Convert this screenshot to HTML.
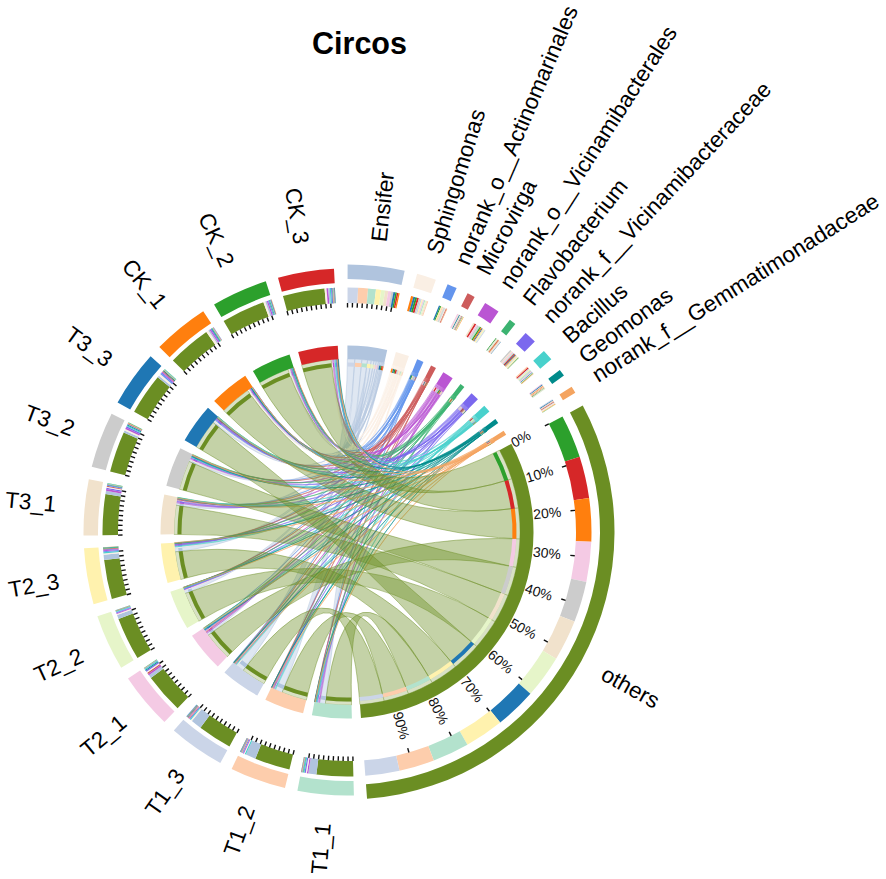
<!DOCTYPE html><html><head><meta charset="utf-8"><style>html,body{margin:0;padding:0;background:#fff;}svg{display:block}svg text{font-family:"Liberation Sans",sans-serif}</style></head><body><svg width="886" height="879" viewBox="0 0 886 879"><rect width="886" height="879" fill="#fff"/><path d="M325.32,703.64A173.0,173.0 0 0 1 319.56,702.81Q347.00,532.00 361.91,359.64A173.0,173.0 0 0 1 367.53,360.22Q347.00,532.00 325.32,703.64Z" fill="#b0c4de" fill-opacity="0.4" stroke="#b0c4de" stroke-opacity="0.8" stroke-width="0.6"/><path d="M282.14,692.38A173.0,173.0 0 0 1 275.44,689.51Q347.00,532.00 354.85,359.18A173.0,173.0 0 0 1 361.91,359.64Q347.00,532.00 282.14,692.38Z" fill="#b0c4de" fill-opacity="0.4" stroke="#b0c4de" stroke-opacity="0.8" stroke-width="0.6"/><path d="M243.27,670.45A173.0,173.0 0 0 1 237.23,665.71Q347.00,532.00 347.39,359.00A173.0,173.0 0 0 1 354.85,359.18Q347.00,532.00 243.27,670.45Z" fill="#b0c4de" fill-opacity="0.4" stroke="#b0c4de" stroke-opacity="0.8" stroke-width="0.6"/><path d="M208.18,635.24A173.0,173.0 0 0 1 206.83,633.39Q347.00,532.00 376.25,361.49A173.0,173.0 0 0 1 378.44,361.88Q347.00,532.00 208.18,635.24Z" fill="#b0c4de" fill-opacity="0.4" stroke="#b0c4de" stroke-opacity="0.8" stroke-width="0.6"/><path d="M185.30,593.49A173.0,173.0 0 0 1 184.29,590.78Q347.00,532.00 371.21,360.70A173.0,173.0 0 0 1 373.98,361.12Q347.00,532.00 185.30,593.49Z" fill="#b0c4de" fill-opacity="0.4" stroke="#b0c4de" stroke-opacity="0.8" stroke-width="0.6"/><path d="M175.15,551.88A173.0,173.0 0 0 1 174.75,548.09Q347.00,532.00 367.53,360.22A173.0,173.0 0 0 1 371.21,360.70Q347.00,532.00 175.15,551.88Z" fill="#b0c4de" fill-opacity="0.4" stroke="#b0c4de" stroke-opacity="0.8" stroke-width="0.6"/><path d="M176.09,505.18A173.0,173.0 0 0 1 176.47,502.84Q347.00,532.00 373.98,361.12A173.0,173.0 0 0 1 376.25,361.49Q347.00,532.00 176.09,505.18Z" fill="#b0c4de" fill-opacity="0.4" stroke="#b0c4de" stroke-opacity="0.8" stroke-width="0.6"/><path d="M189.01,461.52A173.0,173.0 0 0 1 189.64,460.12Q347.00,532.00 378.44,361.88A173.0,173.0 0 0 1 379.91,362.16Q347.00,532.00 189.01,461.52Z" fill="#b0c4de" fill-opacity="0.4" stroke="#b0c4de" stroke-opacity="0.8" stroke-width="0.6"/><path d="M213.05,422.52A173.0,173.0 0 0 1 213.97,421.40Q347.00,532.00 379.91,362.16A173.0,173.0 0 0 1 381.30,362.43Q347.00,532.00 213.05,422.52Z" fill="#b0c4de" fill-opacity="0.4" stroke="#b0c4de" stroke-opacity="0.8" stroke-width="0.6"/><path d="M248.89,389.51A173.0,173.0 0 0 1 249.68,388.97Q347.00,532.00 383.39,362.87A173.0,173.0 0 0 1 384.30,363.07Q347.00,532.00 248.89,389.51Z" fill="#b0c4de" fill-opacity="0.4" stroke="#b0c4de" stroke-opacity="0.8" stroke-width="0.6"/><path d="M289.14,368.96A173.0,173.0 0 0 1 290.20,368.59Q347.00,532.00 381.30,362.43A173.0,173.0 0 0 1 382.36,362.65Q347.00,532.00 289.14,368.96Z" fill="#b0c4de" fill-opacity="0.4" stroke="#b0c4de" stroke-opacity="0.8" stroke-width="0.6"/><path d="M333.70,359.51A173.0,173.0 0 0 1 334.78,359.43Q347.00,532.00 382.36,362.65A173.0,173.0 0 0 1 383.39,362.87Q347.00,532.00 333.70,359.51Z" fill="#b0c4de" fill-opacity="0.4" stroke="#b0c4de" stroke-opacity="0.8" stroke-width="0.6"/><path d="M318.61,702.66A173.0,173.0 0 0 1 317.76,702.51Q347.00,532.00 401.62,367.85A173.0,173.0 0 0 1 402.42,368.12Q347.00,532.00 318.61,702.66Z" fill="#faefe4" fill-opacity="0.4" stroke="#faefe4" stroke-opacity="0.8" stroke-width="0.6"/><path d="M274.59,689.12A173.0,173.0 0 0 1 273.98,688.84Q347.00,532.00 403.85,368.61A173.0,173.0 0 0 1 404.46,368.82Q347.00,532.00 274.59,689.12Z" fill="#faefe4" fill-opacity="0.4" stroke="#faefe4" stroke-opacity="0.8" stroke-width="0.6"/><path d="M237.23,665.71A173.0,173.0 0 0 1 236.43,665.05Q347.00,532.00 398.98,366.99A173.0,173.0 0 0 1 399.94,367.30Q347.00,532.00 237.23,665.71Z" fill="#faefe4" fill-opacity="0.4" stroke="#faefe4" stroke-opacity="0.8" stroke-width="0.6"/><path d="M205.60,631.67A173.0,173.0 0 0 1 205.08,630.94Q347.00,532.00 400.79,367.58A173.0,173.0 0 0 1 401.62,367.85Q347.00,532.00 205.60,631.67Z" fill="#faefe4" fill-opacity="0.4" stroke="#faefe4" stroke-opacity="0.8" stroke-width="0.6"/><path d="M184.29,590.78A173.0,173.0 0 0 1 184.02,590.02Q347.00,532.00 402.42,368.12A173.0,173.0 0 0 1 403.16,368.37Q347.00,532.00 184.29,590.78Z" fill="#faefe4" fill-opacity="0.4" stroke="#faefe4" stroke-opacity="0.8" stroke-width="0.6"/><path d="M174.75,548.09A173.0,173.0 0 0 1 174.67,547.17Q347.00,532.00 399.94,367.30A173.0,173.0 0 0 1 400.79,367.58Q347.00,532.00 174.75,548.09Z" fill="#faefe4" fill-opacity="0.4" stroke="#faefe4" stroke-opacity="0.8" stroke-width="0.6"/><path d="M176.86,500.66A173.0,173.0 0 0 1 177.00,499.92Q347.00,532.00 403.16,368.37A173.0,173.0 0 0 1 403.85,368.61Q347.00,532.00 176.86,500.66Z" fill="#faefe4" fill-opacity="0.4" stroke="#faefe4" stroke-opacity="0.8" stroke-width="0.6"/><path d="M189.64,460.12A173.0,173.0 0 0 1 190.12,459.07Q347.00,532.00 397.91,366.66A173.0,173.0 0 0 1 398.98,366.99Q347.00,532.00 189.64,460.12Z" fill="#faefe4" fill-opacity="0.4" stroke="#faefe4" stroke-opacity="0.8" stroke-width="0.6"/><path d="M213.97,421.40A173.0,173.0 0 0 1 214.90,420.29Q347.00,532.00 393.97,365.50A173.0,173.0 0 0 1 395.33,365.89Q347.00,532.00 213.97,421.40Z" fill="#faefe4" fill-opacity="0.4" stroke="#faefe4" stroke-opacity="0.8" stroke-width="0.6"/><path d="M247.47,390.49A173.0,173.0 0 0 1 248.89,389.51Q347.00,532.00 392.36,365.05A173.0,173.0 0 0 1 393.97,365.50Q347.00,532.00 247.47,390.49Z" fill="#faefe4" fill-opacity="0.4" stroke="#faefe4" stroke-opacity="0.8" stroke-width="0.6"/><path d="M287.83,369.43A173.0,173.0 0 0 1 289.14,368.96Q347.00,532.00 395.33,365.89A173.0,173.0 0 0 1 396.63,366.27Q347.00,532.00 287.83,369.43Z" fill="#faefe4" fill-opacity="0.4" stroke="#faefe4" stroke-opacity="0.8" stroke-width="0.6"/><path d="M331.08,359.73A173.0,173.0 0 0 1 332.46,359.61Q347.00,532.00 396.63,366.27A173.0,173.0 0 0 1 397.91,366.66Q347.00,532.00 331.08,359.73Z" fill="#faefe4" fill-opacity="0.4" stroke="#faefe4" stroke-opacity="0.8" stroke-width="0.6"/><path d="M315.70,702.15A173.0,173.0 0 0 1 315.26,702.06Q347.00,532.00 415.94,373.33A173.0,173.0 0 0 1 416.34,373.51Q347.00,532.00 315.70,702.15Z" fill="#6495ed" fill-opacity="0.4" stroke="#6495ed" stroke-opacity="0.8" stroke-width="0.6"/><path d="M273.38,688.55A173.0,173.0 0 0 1 272.80,688.28Q347.00,532.00 414.36,372.65A173.0,173.0 0 0 1 414.93,372.90Q347.00,532.00 273.38,688.55Z" fill="#6495ed" fill-opacity="0.4" stroke="#6495ed" stroke-opacity="0.8" stroke-width="0.6"/><path d="M233.49,662.55A173.0,173.0 0 0 1 233.30,662.39Q347.00,532.00 417.50,374.02A173.0,173.0 0 0 1 417.72,374.12Q347.00,532.00 233.49,662.55Z" fill="#6495ed" fill-opacity="0.4" stroke="#6495ed" stroke-opacity="0.8" stroke-width="0.6"/><path d="M203.82,629.10A173.0,173.0 0 0 1 203.56,628.72Q347.00,532.00 416.34,373.51A173.0,173.0 0 0 1 416.74,373.68Q347.00,532.00 203.82,629.10Z" fill="#6495ed" fill-opacity="0.4" stroke="#6495ed" stroke-opacity="0.8" stroke-width="0.6"/><path d="M183.66,589.01A173.0,173.0 0 0 1 183.52,588.59Q347.00,532.00 416.74,373.68A173.0,173.0 0 0 1 417.14,373.86Q347.00,532.00 183.66,589.01Z" fill="#6495ed" fill-opacity="0.4" stroke="#6495ed" stroke-opacity="0.8" stroke-width="0.6"/><path d="M174.60,546.38A173.0,173.0 0 0 1 174.54,545.60Q347.00,532.00 413.66,372.36A173.0,173.0 0 0 1 414.36,372.65Q347.00,532.00 174.60,546.38Z" fill="#6495ed" fill-opacity="0.4" stroke="#6495ed" stroke-opacity="0.8" stroke-width="0.6"/><path d="M177.13,499.25A173.0,173.0 0 0 1 177.25,498.63Q347.00,532.00 414.93,372.90A173.0,173.0 0 0 1 415.50,373.14Q347.00,532.00 177.13,499.25Z" fill="#6495ed" fill-opacity="0.4" stroke="#6495ed" stroke-opacity="0.8" stroke-width="0.6"/><path d="M191.60,455.98A173.0,173.0 0 0 1 191.82,455.53Q347.00,532.00 415.50,373.14A173.0,173.0 0 0 1 415.94,373.33Q347.00,532.00 191.60,455.98Z" fill="#6495ed" fill-opacity="0.4" stroke="#6495ed" stroke-opacity="0.8" stroke-width="0.6"/><path d="M214.90,420.29A173.0,173.0 0 0 1 215.52,419.56Q347.00,532.00 412.09,371.71A173.0,173.0 0 0 1 412.94,372.06Q347.00,532.00 214.90,420.29Z" fill="#6495ed" fill-opacity="0.4" stroke="#6495ed" stroke-opacity="0.8" stroke-width="0.6"/><path d="M252.42,387.14A173.0,173.0 0 0 1 252.60,387.03Q347.00,532.00 417.72,374.12A173.0,173.0 0 0 1 417.92,374.20Q347.00,532.00 252.42,387.14Z" fill="#6495ed" fill-opacity="0.4" stroke="#6495ed" stroke-opacity="0.8" stroke-width="0.6"/><path d="M291.06,368.29A173.0,173.0 0 0 1 291.82,368.04Q347.00,532.00 412.94,372.06A173.0,173.0 0 0 1 413.66,372.36Q347.00,532.00 291.06,368.29Z" fill="#6495ed" fill-opacity="0.4" stroke="#6495ed" stroke-opacity="0.8" stroke-width="0.6"/><path d="M337.35,359.27A173.0,173.0 0 0 1 337.76,359.25Q347.00,532.00 417.14,373.86A173.0,173.0 0 0 1 417.50,374.02Q347.00,532.00 337.35,359.27Z" fill="#6495ed" fill-opacity="0.4" stroke="#6495ed" stroke-opacity="0.8" stroke-width="0.6"/><path d="M314.91,702.00A173.0,173.0 0 0 1 314.63,701.94Q347.00,532.00 428.46,379.38A173.0,173.0 0 0 1 428.71,379.51Q347.00,532.00 314.91,702.00Z" fill="#cd5c5c" fill-opacity="0.4" stroke="#cd5c5c" stroke-opacity="0.8" stroke-width="0.6"/><path d="M271.67,687.74A173.0,173.0 0 0 1 271.45,687.63Q347.00,532.00 428.93,379.63A173.0,173.0 0 0 1 429.15,379.75Q347.00,532.00 271.67,687.74Z" fill="#cd5c5c" fill-opacity="0.4" stroke="#cd5c5c" stroke-opacity="0.8" stroke-width="0.6"/><path d="M233.97,662.97A173.0,173.0 0 0 1 233.70,662.74Q347.00,532.00 427.85,379.06A173.0,173.0 0 0 1 428.16,379.22Q347.00,532.00 233.97,662.97Z" fill="#cd5c5c" fill-opacity="0.4" stroke="#cd5c5c" stroke-opacity="0.8" stroke-width="0.6"/><path d="M206.14,632.44A173.0,173.0 0 0 1 205.60,631.67Q347.00,532.00 425.00,377.58A173.0,173.0 0 0 1 425.81,377.99Q347.00,532.00 206.14,632.44Z" fill="#cd5c5c" fill-opacity="0.4" stroke="#cd5c5c" stroke-opacity="0.8" stroke-width="0.6"/><path d="M183.29,587.93A173.0,173.0 0 0 1 183.21,587.70Q347.00,532.00 429.15,379.75A173.0,173.0 0 0 1 429.35,379.86Q347.00,532.00 183.29,587.93Z" fill="#cd5c5c" fill-opacity="0.4" stroke="#cd5c5c" stroke-opacity="0.8" stroke-width="0.6"/><path d="M174.45,544.42A173.0,173.0 0 0 1 174.41,543.86Q347.00,532.00 426.96,378.58A173.0,173.0 0 0 1 427.44,378.84Q347.00,532.00 174.45,544.42Z" fill="#cd5c5c" fill-opacity="0.4" stroke="#cd5c5c" stroke-opacity="0.8" stroke-width="0.6"/><path d="M177.00,499.92A173.0,173.0 0 0 1 177.13,499.25Q347.00,532.00 425.81,377.99A173.0,173.0 0 0 1 426.40,378.30Q347.00,532.00 177.00,499.92Z" fill="#cd5c5c" fill-opacity="0.4" stroke="#cd5c5c" stroke-opacity="0.8" stroke-width="0.6"/><path d="M191.82,455.53A173.0,173.0 0 0 1 192.03,455.10Q347.00,532.00 427.44,378.84A173.0,173.0 0 0 1 427.85,379.06Q347.00,532.00 191.82,455.53Z" fill="#cd5c5c" fill-opacity="0.4" stroke="#cd5c5c" stroke-opacity="0.8" stroke-width="0.6"/><path d="M216.41,418.54A173.0,173.0 0 0 1 216.83,418.05Q347.00,532.00 426.40,378.30A173.0,173.0 0 0 1 426.96,378.58Q347.00,532.00 216.41,418.54Z" fill="#cd5c5c" fill-opacity="0.4" stroke="#cd5c5c" stroke-opacity="0.8" stroke-width="0.6"/><path d="M252.23,387.27A173.0,173.0 0 0 1 252.42,387.14Q347.00,532.00 429.35,379.86A173.0,173.0 0 0 1 429.55,379.96Q347.00,532.00 252.23,387.27Z" fill="#cd5c5c" fill-opacity="0.4" stroke="#cd5c5c" stroke-opacity="0.8" stroke-width="0.6"/><path d="M293.25,367.56A173.0,173.0 0 0 1 293.50,367.48Q347.00,532.00 428.71,379.51A173.0,173.0 0 0 1 428.93,379.63Q347.00,532.00 293.25,367.56Z" fill="#cd5c5c" fill-opacity="0.4" stroke="#cd5c5c" stroke-opacity="0.8" stroke-width="0.6"/><path d="M337.76,359.25A173.0,173.0 0 0 1 338.11,359.23Q347.00,532.00 428.16,379.22A173.0,173.0 0 0 1 428.46,379.38Q347.00,532.00 337.76,359.25Z" fill="#cd5c5c" fill-opacity="0.4" stroke="#cd5c5c" stroke-opacity="0.8" stroke-width="0.6"/><path d="M319.56,702.81A173.0,173.0 0 0 1 318.61,702.66Q347.00,532.00 440.30,386.32A173.0,173.0 0 0 1 441.09,386.82Q347.00,532.00 319.56,702.81Z" fill="#ba55d3" fill-opacity="0.4" stroke="#ba55d3" stroke-opacity="0.8" stroke-width="0.6"/><path d="M273.98,688.84A173.0,173.0 0 0 1 273.38,688.55Q347.00,532.00 443.04,388.11A173.0,173.0 0 0 1 443.58,388.47Q347.00,532.00 273.98,688.84Z" fill="#ba55d3" fill-opacity="0.4" stroke="#ba55d3" stroke-opacity="0.8" stroke-width="0.6"/><path d="M234.82,663.70A173.0,173.0 0 0 1 234.39,663.33Q347.00,532.00 444.53,389.12A173.0,173.0 0 0 1 444.99,389.43Q347.00,532.00 234.82,663.70Z" fill="#ba55d3" fill-opacity="0.4" stroke="#ba55d3" stroke-opacity="0.8" stroke-width="0.6"/><path d="M206.83,633.39A173.0,173.0 0 0 1 206.14,632.44Q347.00,532.00 438.42,385.13A173.0,173.0 0 0 1 439.39,385.74Q347.00,532.00 206.83,633.39Z" fill="#ba55d3" fill-opacity="0.4" stroke="#ba55d3" stroke-opacity="0.8" stroke-width="0.6"/><path d="M184.02,590.02A173.0,173.0 0 0 1 183.83,589.48Q347.00,532.00 444.07,388.80A173.0,173.0 0 0 1 444.53,389.12Q347.00,532.00 184.02,590.02Z" fill="#ba55d3" fill-opacity="0.4" stroke="#ba55d3" stroke-opacity="0.8" stroke-width="0.6"/><path d="M174.54,545.60A173.0,173.0 0 0 1 174.49,544.99Q347.00,532.00 443.58,388.47A173.0,173.0 0 0 1 444.07,388.80Q347.00,532.00 174.54,545.60Z" fill="#ba55d3" fill-opacity="0.4" stroke="#ba55d3" stroke-opacity="0.8" stroke-width="0.6"/><path d="M176.47,502.84A173.0,173.0 0 0 1 176.69,501.62Q347.00,532.00 436.36,383.87A173.0,173.0 0 0 1 437.39,384.49Q347.00,532.00 176.47,502.84Z" fill="#ba55d3" fill-opacity="0.4" stroke="#ba55d3" stroke-opacity="0.8" stroke-width="0.6"/><path d="M190.12,459.07A173.0,173.0 0 0 1 190.59,458.07Q347.00,532.00 439.39,385.74A173.0,173.0 0 0 1 440.30,386.32Q347.00,532.00 190.12,459.07Z" fill="#ba55d3" fill-opacity="0.4" stroke="#ba55d3" stroke-opacity="0.8" stroke-width="0.6"/><path d="M215.97,419.04A173.0,173.0 0 0 1 216.41,418.54Q347.00,532.00 442.50,387.75A173.0,173.0 0 0 1 443.04,388.11Q347.00,532.00 215.97,419.04Z" fill="#ba55d3" fill-opacity="0.4" stroke="#ba55d3" stroke-opacity="0.8" stroke-width="0.6"/><path d="M249.68,388.97A173.0,173.0 0 0 1 250.36,388.51Q347.00,532.00 441.83,387.31A173.0,173.0 0 0 1 442.50,387.75Q347.00,532.00 249.68,388.97Z" fill="#ba55d3" fill-opacity="0.4" stroke="#ba55d3" stroke-opacity="0.8" stroke-width="0.6"/><path d="M290.20,368.59A173.0,173.0 0 0 1 291.06,368.29Q347.00,532.00 441.09,386.82A173.0,173.0 0 0 1 441.83,387.31Q347.00,532.00 290.20,368.59Z" fill="#ba55d3" fill-opacity="0.4" stroke="#ba55d3" stroke-opacity="0.8" stroke-width="0.6"/><path d="M332.46,359.61A173.0,173.0 0 0 1 333.70,359.51Q347.00,532.00 437.39,384.49A173.0,173.0 0 0 1 438.42,385.13Q347.00,532.00 332.46,359.61Z" fill="#ba55d3" fill-opacity="0.4" stroke="#ba55d3" stroke-opacity="0.8" stroke-width="0.6"/><path d="M316.18,702.23A173.0,173.0 0 0 1 315.70,702.15Q347.00,532.00 453.56,395.71A173.0,173.0 0 0 1 453.92,396.00Q347.00,532.00 316.18,702.23Z" fill="#3cb371" fill-opacity="0.4" stroke="#3cb371" stroke-opacity="0.8" stroke-width="0.6"/><path d="M271.91,687.85A173.0,173.0 0 0 1 271.67,687.74Q347.00,532.00 455.33,397.11A173.0,173.0 0 0 1 455.52,397.27Q347.00,532.00 271.91,687.85Z" fill="#3cb371" fill-opacity="0.4" stroke="#3cb371" stroke-opacity="0.8" stroke-width="0.6"/><path d="M234.39,663.33A173.0,173.0 0 0 1 233.97,662.97Q347.00,532.00 452.75,395.08A173.0,173.0 0 0 1 453.17,395.41Q347.00,532.00 234.39,663.33Z" fill="#3cb371" fill-opacity="0.4" stroke="#3cb371" stroke-opacity="0.8" stroke-width="0.6"/><path d="M203.38,628.44A173.0,173.0 0 0 1 203.22,628.21Q347.00,532.00 454.92,396.79A173.0,173.0 0 0 1 455.13,396.95Q347.00,532.00 203.38,628.44Z" fill="#3cb371" fill-opacity="0.4" stroke="#3cb371" stroke-opacity="0.8" stroke-width="0.6"/><path d="M183.38,588.18A173.0,173.0 0 0 1 183.29,587.93Q347.00,532.00 455.13,396.95A173.0,173.0 0 0 1 455.33,397.11Q347.00,532.00 183.38,588.18Z" fill="#3cb371" fill-opacity="0.4" stroke="#3cb371" stroke-opacity="0.8" stroke-width="0.6"/><path d="M174.41,543.86A173.0,173.0 0 0 1 174.37,543.35Q347.00,532.00 453.17,395.41A173.0,173.0 0 0 1 453.56,395.71Q347.00,532.00 174.41,543.86Z" fill="#3cb371" fill-opacity="0.4" stroke="#3cb371" stroke-opacity="0.8" stroke-width="0.6"/><path d="M177.46,497.55A173.0,173.0 0 0 1 177.52,497.30Q347.00,532.00 455.52,397.27A173.0,173.0 0 0 1 455.72,397.43Q347.00,532.00 177.46,497.55Z" fill="#3cb371" fill-opacity="0.4" stroke="#3cb371" stroke-opacity="0.8" stroke-width="0.6"/><path d="M192.24,454.67A173.0,173.0 0 0 1 192.43,454.29Q347.00,532.00 454.60,396.53A173.0,173.0 0 0 1 454.92,396.79Q347.00,532.00 192.24,454.67Z" fill="#3cb371" fill-opacity="0.4" stroke="#3cb371" stroke-opacity="0.8" stroke-width="0.6"/><path d="M217.92,416.82A173.0,173.0 0 0 1 218.05,416.67Q347.00,532.00 455.72,397.43A173.0,173.0 0 0 1 455.87,397.55Q347.00,532.00 217.92,416.82Z" fill="#3cb371" fill-opacity="0.4" stroke="#3cb371" stroke-opacity="0.8" stroke-width="0.6"/><path d="M251.34,387.85A173.0,173.0 0 0 1 251.70,387.61Q347.00,532.00 454.26,396.27A173.0,173.0 0 0 1 454.60,396.53Q347.00,532.00 251.34,387.85Z" fill="#3cb371" fill-opacity="0.4" stroke="#3cb371" stroke-opacity="0.8" stroke-width="0.6"/><path d="M291.82,368.04A173.0,173.0 0 0 1 292.35,367.86Q347.00,532.00 452.32,394.75A173.0,173.0 0 0 1 452.75,395.08Q347.00,532.00 291.82,368.04Z" fill="#3cb371" fill-opacity="0.4" stroke="#3cb371" stroke-opacity="0.8" stroke-width="0.6"/><path d="M336.49,359.32A173.0,173.0 0 0 1 336.94,359.29Q347.00,532.00 453.92,396.00A173.0,173.0 0 0 1 454.26,396.27Q347.00,532.00 336.49,359.32Z" fill="#3cb371" fill-opacity="0.4" stroke="#3cb371" stroke-opacity="0.8" stroke-width="0.6"/><path d="M317.76,702.51A173.0,173.0 0 0 1 316.92,702.36Q347.00,532.00 464.61,405.12A173.0,173.0 0 0 1 465.21,405.69Q347.00,532.00 317.76,702.51Z" fill="#7b68ee" fill-opacity="0.4" stroke="#7b68ee" stroke-opacity="0.8" stroke-width="0.6"/><path d="M272.29,688.04A173.0,173.0 0 0 1 271.91,687.85Q347.00,532.00 467.96,408.32A173.0,173.0 0 0 1 468.26,408.61Q347.00,532.00 272.29,688.04Z" fill="#7b68ee" fill-opacity="0.4" stroke="#7b68ee" stroke-opacity="0.8" stroke-width="0.6"/><path d="M235.80,664.53A173.0,173.0 0 0 1 235.28,664.09Q347.00,532.00 466.74,407.14A173.0,173.0 0 0 1 467.21,407.59Q347.00,532.00 235.80,664.53Z" fill="#7b68ee" fill-opacity="0.4" stroke="#7b68ee" stroke-opacity="0.8" stroke-width="0.6"/><path d="M205.08,630.94A173.0,173.0 0 0 1 204.58,630.21Q347.00,532.00 463.97,404.54A173.0,173.0 0 0 1 464.61,405.12Q347.00,532.00 205.08,630.94Z" fill="#7b68ee" fill-opacity="0.4" stroke="#7b68ee" stroke-opacity="0.8" stroke-width="0.6"/><path d="M183.83,589.48A173.0,173.0 0 0 1 183.66,589.01Q347.00,532.00 467.61,407.98A173.0,173.0 0 0 1 467.96,408.32Q347.00,532.00 183.83,589.48Z" fill="#7b68ee" fill-opacity="0.4" stroke="#7b68ee" stroke-opacity="0.8" stroke-width="0.6"/><path d="M174.49,544.99A173.0,173.0 0 0 1 174.45,544.42Q347.00,532.00 467.21,407.59A173.0,173.0 0 0 1 467.61,407.98Q347.00,532.00 174.49,544.99Z" fill="#7b68ee" fill-opacity="0.4" stroke="#7b68ee" stroke-opacity="0.8" stroke-width="0.6"/><path d="M176.69,501.62A173.0,173.0 0 0 1 176.86,500.66Q347.00,532.00 463.28,403.90A173.0,173.0 0 0 1 463.97,404.54Q347.00,532.00 176.69,501.62Z" fill="#7b68ee" fill-opacity="0.4" stroke="#7b68ee" stroke-opacity="0.8" stroke-width="0.6"/><path d="M190.59,458.07A173.0,173.0 0 0 1 191.04,457.14Q347.00,532.00 462.54,403.23A173.0,173.0 0 0 1 463.28,403.90Q347.00,532.00 190.59,458.07Z" fill="#7b68ee" fill-opacity="0.4" stroke="#7b68ee" stroke-opacity="0.8" stroke-width="0.6"/><path d="M215.52,419.56A173.0,173.0 0 0 1 215.97,419.04Q347.00,532.00 465.78,406.22A173.0,173.0 0 0 1 466.27,406.68Q347.00,532.00 215.52,419.56Z" fill="#7b68ee" fill-opacity="0.4" stroke="#7b68ee" stroke-opacity="0.8" stroke-width="0.6"/><path d="M250.36,388.51A173.0,173.0 0 0 1 250.93,388.13Q347.00,532.00 466.27,406.68A173.0,173.0 0 0 1 466.74,407.14Q347.00,532.00 250.36,388.51Z" fill="#7b68ee" fill-opacity="0.4" stroke="#7b68ee" stroke-opacity="0.8" stroke-width="0.6"/><path d="M292.67,367.75A173.0,173.0 0 0 1 292.97,367.65Q347.00,532.00 468.26,408.61A173.0,173.0 0 0 1 468.47,408.82Q347.00,532.00 292.67,367.75Z" fill="#7b68ee" fill-opacity="0.4" stroke="#7b68ee" stroke-opacity="0.8" stroke-width="0.6"/><path d="M335.70,359.37A173.0,173.0 0 0 1 336.49,359.32Q347.00,532.00 465.21,405.69A173.0,173.0 0 0 1 465.78,406.22Q347.00,532.00 335.70,359.37Z" fill="#7b68ee" fill-opacity="0.4" stroke="#7b68ee" stroke-opacity="0.8" stroke-width="0.6"/><path d="M316.92,702.36A173.0,173.0 0 0 1 316.18,702.23Q347.00,532.00 476.60,417.41A173.0,173.0 0 0 1 477.09,417.96Q347.00,532.00 316.92,702.36Z" fill="#48d1cc" fill-opacity="0.4" stroke="#48d1cc" stroke-opacity="0.8" stroke-width="0.6"/><path d="M275.44,689.51A173.0,173.0 0 0 1 274.59,689.12Q347.00,532.00 474.34,414.90A173.0,173.0 0 0 1 474.96,415.57Q347.00,532.00 275.44,689.51Z" fill="#48d1cc" fill-opacity="0.4" stroke="#48d1cc" stroke-opacity="0.8" stroke-width="0.6"/><path d="M236.43,665.05A173.0,173.0 0 0 1 235.80,664.53Q347.00,532.00 475.56,416.24A173.0,173.0 0 0 1 476.09,416.83Q347.00,532.00 236.43,665.05Z" fill="#48d1cc" fill-opacity="0.4" stroke="#48d1cc" stroke-opacity="0.8" stroke-width="0.6"/><path d="M204.18,629.63A173.0,173.0 0 0 1 203.82,629.10Q347.00,532.00 477.53,418.47A173.0,173.0 0 0 1 477.94,418.94Q347.00,532.00 204.18,629.63Z" fill="#48d1cc" fill-opacity="0.4" stroke="#48d1cc" stroke-opacity="0.8" stroke-width="0.6"/><path d="M183.52,588.59A173.0,173.0 0 0 1 183.38,588.18Q347.00,532.00 478.24,419.28A173.0,173.0 0 0 1 478.51,419.60Q347.00,532.00 183.52,588.59Z" fill="#48d1cc" fill-opacity="0.4" stroke="#48d1cc" stroke-opacity="0.8" stroke-width="0.6"/><path d="M174.67,547.17A173.0,173.0 0 0 1 174.60,546.38Q347.00,532.00 476.09,416.83A173.0,173.0 0 0 1 476.60,417.41Q347.00,532.00 174.67,547.17Z" fill="#48d1cc" fill-opacity="0.4" stroke="#48d1cc" stroke-opacity="0.8" stroke-width="0.6"/><path d="M177.40,497.87A173.0,173.0 0 0 1 177.46,497.55Q347.00,532.00 478.94,420.10A173.0,173.0 0 0 1 479.14,420.34Q347.00,532.00 177.40,497.87Z" fill="#48d1cc" fill-opacity="0.4" stroke="#48d1cc" stroke-opacity="0.8" stroke-width="0.6"/><path d="M191.04,457.14A173.0,173.0 0 0 1 191.34,456.51Q347.00,532.00 477.09,417.96A173.0,173.0 0 0 1 477.53,418.47Q347.00,532.00 191.04,457.14Z" fill="#48d1cc" fill-opacity="0.4" stroke="#48d1cc" stroke-opacity="0.8" stroke-width="0.6"/><path d="M217.60,417.17A173.0,173.0 0 0 1 217.92,416.82Q347.00,532.00 477.94,418.94A173.0,173.0 0 0 1 478.24,419.28Q347.00,532.00 217.60,417.17Z" fill="#48d1cc" fill-opacity="0.4" stroke="#48d1cc" stroke-opacity="0.8" stroke-width="0.6"/><path d="M251.70,387.61A173.0,173.0 0 0 1 251.98,387.43Q347.00,532.00 478.73,419.85A173.0,173.0 0 0 1 478.94,420.10Q347.00,532.00 251.70,387.61Z" fill="#48d1cc" fill-opacity="0.4" stroke="#48d1cc" stroke-opacity="0.8" stroke-width="0.6"/><path d="M292.35,367.86A173.0,173.0 0 0 1 292.67,367.75Q347.00,532.00 478.51,419.60A173.0,173.0 0 0 1 478.73,419.85Q347.00,532.00 292.35,367.86Z" fill="#48d1cc" fill-opacity="0.4" stroke="#48d1cc" stroke-opacity="0.8" stroke-width="0.6"/><path d="M334.78,359.43A173.0,173.0 0 0 1 335.70,359.37Q347.00,532.00 474.96,415.57A173.0,173.0 0 0 1 475.56,416.24Q347.00,532.00 334.78,359.43Z" fill="#48d1cc" fill-opacity="0.4" stroke="#48d1cc" stroke-opacity="0.8" stroke-width="0.6"/><path d="M314.63,701.94A173.0,173.0 0 0 1 314.43,701.91Q347.00,532.00 487.12,430.54A173.0,173.0 0 0 1 487.24,430.69Q347.00,532.00 314.63,701.94Z" fill="#008b8b" fill-opacity="0.4" stroke="#008b8b" stroke-opacity="0.8" stroke-width="0.6"/><path d="M271.45,687.63A173.0,173.0 0 0 1 271.24,687.53Q347.00,532.00 486.99,430.36A173.0,173.0 0 0 1 487.12,430.54Q347.00,532.00 271.45,687.63Z" fill="#008b8b" fill-opacity="0.4" stroke="#008b8b" stroke-opacity="0.8" stroke-width="0.6"/><path d="M233.70,662.74A173.0,173.0 0 0 1 233.49,662.55Q347.00,532.00 486.83,430.13A173.0,173.0 0 0 1 486.99,430.36Q347.00,532.00 233.70,662.74Z" fill="#008b8b" fill-opacity="0.4" stroke="#008b8b" stroke-opacity="0.8" stroke-width="0.6"/><path d="M204.58,630.21A173.0,173.0 0 0 1 204.18,629.63Q347.00,532.00 484.62,427.16A173.0,173.0 0 0 1 485.03,427.71Q347.00,532.00 204.58,630.21Z" fill="#008b8b" fill-opacity="0.4" stroke="#008b8b" stroke-opacity="0.8" stroke-width="0.6"/><path d="M183.15,587.51A173.0,173.0 0 0 1 183.10,587.38Q347.00,532.00 487.24,430.69A173.0,173.0 0 0 1 487.31,430.80Q347.00,532.00 183.15,587.51Z" fill="#008b8b" fill-opacity="0.4" stroke="#008b8b" stroke-opacity="0.8" stroke-width="0.6"/><path d="M174.37,543.35A173.0,173.0 0 0 1 174.35,543.01Q347.00,532.00 486.46,429.63A173.0,173.0 0 0 1 486.66,429.90Q347.00,532.00 174.37,543.35Z" fill="#008b8b" fill-opacity="0.4" stroke="#008b8b" stroke-opacity="0.8" stroke-width="0.6"/><path d="M177.25,498.63A173.0,173.0 0 0 1 177.33,498.20Q347.00,532.00 486.01,429.02A173.0,173.0 0 0 1 486.26,429.36Q347.00,532.00 177.25,498.63Z" fill="#008b8b" fill-opacity="0.4" stroke="#008b8b" stroke-opacity="0.8" stroke-width="0.6"/><path d="M191.34,456.51A173.0,173.0 0 0 1 191.60,455.98Q347.00,532.00 485.38,428.17A173.0,173.0 0 0 1 485.72,428.63Q347.00,532.00 191.34,456.51Z" fill="#008b8b" fill-opacity="0.4" stroke="#008b8b" stroke-opacity="0.8" stroke-width="0.6"/><path d="M216.83,418.05A173.0,173.0 0 0 1 217.22,417.60Q347.00,532.00 485.03,427.71A173.0,173.0 0 0 1 485.38,428.17Q347.00,532.00 216.83,418.05Z" fill="#008b8b" fill-opacity="0.4" stroke="#008b8b" stroke-opacity="0.8" stroke-width="0.6"/><path d="M250.93,388.13A173.0,173.0 0 0 1 251.34,387.85Q347.00,532.00 485.72,428.63A173.0,173.0 0 0 1 486.01,429.02Q347.00,532.00 250.93,388.13Z" fill="#008b8b" fill-opacity="0.4" stroke="#008b8b" stroke-opacity="0.8" stroke-width="0.6"/><path d="M292.97,367.65A173.0,173.0 0 0 1 293.25,367.56Q347.00,532.00 486.66,429.90A173.0,173.0 0 0 1 486.83,430.13Q347.00,532.00 292.97,367.65Z" fill="#008b8b" fill-opacity="0.4" stroke="#008b8b" stroke-opacity="0.8" stroke-width="0.6"/><path d="M338.11,359.23A173.0,173.0 0 0 1 338.46,359.21Q347.00,532.00 486.26,429.36A173.0,173.0 0 0 1 486.46,429.63Q347.00,532.00 338.11,359.23Z" fill="#008b8b" fill-opacity="0.4" stroke="#008b8b" stroke-opacity="0.8" stroke-width="0.6"/><path d="M315.26,702.06A173.0,173.0 0 0 1 314.91,702.00Q347.00,532.00 493.64,440.20A173.0,173.0 0 0 1 493.82,440.49Q347.00,532.00 315.26,702.06Z" fill="#f4a460" fill-opacity="0.4" stroke="#f4a460" stroke-opacity="0.8" stroke-width="0.6"/><path d="M272.80,688.28A173.0,173.0 0 0 1 272.29,688.04Q347.00,532.00 492.87,439.00A173.0,173.0 0 0 1 493.17,439.47Q347.00,532.00 272.80,688.28Z" fill="#f4a460" fill-opacity="0.4" stroke="#f4a460" stroke-opacity="0.8" stroke-width="0.6"/><path d="M235.28,664.09A173.0,173.0 0 0 1 234.82,663.70Q347.00,532.00 492.25,438.03A173.0,173.0 0 0 1 492.57,438.53Q347.00,532.00 235.28,664.09Z" fill="#f4a460" fill-opacity="0.4" stroke="#f4a460" stroke-opacity="0.8" stroke-width="0.6"/><path d="M203.56,628.72A173.0,173.0 0 0 1 203.38,628.44Q347.00,532.00 493.99,440.77A173.0,173.0 0 0 1 494.16,441.05Q347.00,532.00 203.56,628.72Z" fill="#f4a460" fill-opacity="0.4" stroke="#f4a460" stroke-opacity="0.8" stroke-width="0.6"/><path d="M183.21,587.70A173.0,173.0 0 0 1 183.15,587.51Q347.00,532.00 494.46,441.54A173.0,173.0 0 0 1 494.57,441.70Q347.00,532.00 183.21,587.70Z" fill="#f4a460" fill-opacity="0.4" stroke="#f4a460" stroke-opacity="0.8" stroke-width="0.6"/><path d="M174.35,543.01A173.0,173.0 0 0 1 174.33,542.71Q347.00,532.00 494.16,441.05A173.0,173.0 0 0 1 494.31,441.29Q347.00,532.00 174.35,543.01Z" fill="#f4a460" fill-opacity="0.4" stroke="#f4a460" stroke-opacity="0.8" stroke-width="0.6"/><path d="M177.33,498.20A173.0,173.0 0 0 1 177.40,497.87Q347.00,532.00 493.82,440.49A173.0,173.0 0 0 1 493.99,440.77Q347.00,532.00 177.33,498.20Z" fill="#f4a460" fill-opacity="0.4" stroke="#f4a460" stroke-opacity="0.8" stroke-width="0.6"/><path d="M192.03,455.10A173.0,173.0 0 0 1 192.24,454.67Q347.00,532.00 493.17,439.47A173.0,173.0 0 0 1 493.42,439.86Q347.00,532.00 192.03,455.10Z" fill="#f4a460" fill-opacity="0.4" stroke="#f4a460" stroke-opacity="0.8" stroke-width="0.6"/><path d="M217.22,417.60A173.0,173.0 0 0 1 217.60,417.17Q347.00,532.00 492.57,438.53A173.0,173.0 0 0 1 492.87,439.00Q347.00,532.00 217.22,417.60Z" fill="#f4a460" fill-opacity="0.4" stroke="#f4a460" stroke-opacity="0.8" stroke-width="0.6"/><path d="M251.98,387.43A173.0,173.0 0 0 1 252.23,387.27Q347.00,532.00 494.31,441.29A173.0,173.0 0 0 1 494.46,441.54Q347.00,532.00 251.98,387.43Z" fill="#f4a460" fill-opacity="0.4" stroke="#f4a460" stroke-opacity="0.8" stroke-width="0.6"/><path d="M293.50,367.48A173.0,173.0 0 0 1 293.68,367.42Q347.00,532.00 494.57,441.70A173.0,173.0 0 0 1 494.66,441.87Q347.00,532.00 293.50,367.48Z" fill="#f4a460" fill-opacity="0.4" stroke="#f4a460" stroke-opacity="0.8" stroke-width="0.6"/><path d="M336.94,359.29A173.0,173.0 0 0 1 337.35,359.27Q347.00,532.00 493.42,439.86A173.0,173.0 0 0 1 493.64,440.20Q347.00,532.00 336.94,359.29Z" fill="#f4a460" fill-opacity="0.4" stroke="#f4a460" stroke-opacity="0.8" stroke-width="0.6"/><path d="M351.53,704.94A173.0,173.0 0 0 1 325.32,703.64Q347.00,532.00 432.19,682.57A173.0,173.0 0 0 1 408.43,693.72Q347.00,532.00 351.53,704.94Z" fill="#6b8e23" fill-opacity="0.4" stroke="#6b8e23" stroke-opacity="0.8" stroke-width="0.6"/><path d="M306.26,700.14A173.0,173.0 0 0 1 282.14,692.38Q347.00,532.00 408.43,693.72A173.0,173.0 0 0 1 384.15,700.96Q347.00,532.00 306.26,700.14Z" fill="#6b8e23" fill-opacity="0.4" stroke="#6b8e23" stroke-opacity="0.8" stroke-width="0.6"/><path d="M263.82,683.69A173.0,173.0 0 0 1 243.27,670.45Q347.00,532.00 384.15,700.96A173.0,173.0 0 0 1 359.97,704.51Q347.00,532.00 263.82,683.69Z" fill="#6b8e23" fill-opacity="0.4" stroke="#6b8e23" stroke-opacity="0.8" stroke-width="0.6"/><path d="M227.13,656.74A173.0,173.0 0 0 1 208.18,635.24Q347.00,532.00 519.86,538.94A173.0,173.0 0 0 1 516.34,567.38Q347.00,532.00 227.13,656.74Z" fill="#6b8e23" fill-opacity="0.4" stroke="#6b8e23" stroke-opacity="0.8" stroke-width="0.6"/><path d="M198.74,621.15A173.0,173.0 0 0 1 185.30,593.49Q347.00,532.00 494.98,621.62A173.0,173.0 0 0 1 476.77,646.41Q347.00,532.00 198.74,621.15Z" fill="#6b8e23" fill-opacity="0.4" stroke="#6b8e23" stroke-opacity="0.8" stroke-width="0.6"/><path d="M180.62,579.39A173.0,173.0 0 0 1 175.15,551.88Q347.00,532.00 455.40,666.83A173.0,173.0 0 0 1 432.19,682.57Q347.00,532.00 180.62,579.39Z" fill="#6b8e23" fill-opacity="0.4" stroke="#6b8e23" stroke-opacity="0.8" stroke-width="0.6"/><path d="M174.02,534.36A173.0,173.0 0 0 1 176.09,505.18Q347.00,532.00 507.96,595.40A173.0,173.0 0 0 1 494.98,621.62Q347.00,532.00 174.02,534.36Z" fill="#6b8e23" fill-opacity="0.4" stroke="#6b8e23" stroke-opacity="0.8" stroke-width="0.6"/><path d="M179.39,489.15A173.0,173.0 0 0 1 189.01,461.52Q347.00,532.00 516.34,567.38A173.0,173.0 0 0 1 507.96,595.40Q347.00,532.00 179.39,489.15Z" fill="#6b8e23" fill-opacity="0.4" stroke="#6b8e23" stroke-opacity="0.8" stroke-width="0.6"/><path d="M196.37,446.92A173.0,173.0 0 0 1 213.05,422.52Q347.00,532.00 476.77,646.41A173.0,173.0 0 0 1 455.40,666.83Q347.00,532.00 196.37,446.92Z" fill="#6b8e23" fill-opacity="0.4" stroke="#6b8e23" stroke-opacity="0.8" stroke-width="0.6"/><path d="M223.78,410.57A173.0,173.0 0 0 1 247.47,390.49Q347.00,532.00 518.32,507.92A173.0,173.0 0 0 1 519.86,538.94Q347.00,532.00 223.78,410.57Z" fill="#6b8e23" fill-opacity="0.4" stroke="#6b8e23" stroke-opacity="0.8" stroke-width="0.6"/><path d="M259.72,382.63A173.0,173.0 0 0 1 287.83,369.43Q347.00,532.00 499.47,450.25A173.0,173.0 0 0 1 511.63,478.83Q347.00,532.00 259.72,382.63Z" fill="#6b8e23" fill-opacity="0.4" stroke="#6b8e23" stroke-opacity="0.8" stroke-width="0.6"/><path d="M301.70,365.04A173.0,173.0 0 0 1 331.08,359.73Q347.00,532.00 511.63,478.83A173.0,173.0 0 0 1 518.32,507.92Q347.00,532.00 301.70,365.04Z" fill="#6b8e23" fill-opacity="0.4" stroke="#6b8e23" stroke-opacity="0.8" stroke-width="0.6"/><path d="M325.76,700.16A169.5,169.5 0 0 1 320.12,699.35L320.75,695.41A165.5,165.5 0 0 0 326.26,696.19Z" fill="#b0c4de"/><path d="M361.61,363.13A169.5,169.5 0 0 1 367.12,363.70L366.64,367.67A165.5,165.5 0 0 0 361.27,367.12Z" fill="#b3e2cd"/><path d="M283.45,689.14A169.5,169.5 0 0 1 276.89,686.32L278.54,682.68A165.5,165.5 0 0 0 284.95,685.43Z" fill="#b0c4de"/><path d="M354.69,362.67A169.5,169.5 0 0 1 361.61,363.13L361.27,367.12A165.5,165.5 0 0 0 354.51,366.67Z" fill="#fdcdac"/><path d="M245.37,667.65A169.5,169.5 0 0 1 239.45,663.01L241.99,659.92A165.5,165.5 0 0 0 247.77,664.45Z" fill="#b0c4de"/><path d="M347.38,362.50A169.5,169.5 0 0 1 354.69,362.67L354.51,366.67A165.5,165.5 0 0 0 347.38,366.50Z" fill="#cbd5e8"/><path d="M210.99,633.16A169.5,169.5 0 0 1 209.66,631.34L212.90,629.00A165.5,165.5 0 0 0 214.20,630.77Z" fill="#b0c4de"/><path d="M375.66,364.94A169.5,169.5 0 0 1 377.81,365.32L377.08,369.26A165.5,165.5 0 0 0 374.98,368.88Z" fill="#f4cae4"/><path d="M188.57,592.25A169.5,169.5 0 0 1 187.58,589.59L191.35,588.23A165.5,165.5 0 0 0 192.31,590.82Z" fill="#b0c4de"/><path d="M370.72,364.17A169.5,169.5 0 0 1 373.44,364.57L372.81,368.53A165.5,165.5 0 0 0 370.16,368.13Z" fill="#e6f5c9"/><path d="M178.62,551.48A169.5,169.5 0 0 1 178.23,547.76L182.22,547.39A165.5,165.5 0 0 0 182.60,551.02Z" fill="#b0c4de"/><path d="M367.12,363.70A169.5,169.5 0 0 1 370.72,364.17L370.16,368.13A165.5,165.5 0 0 0 366.64,367.67Z" fill="#fff2ae"/><path d="M179.55,505.72A169.5,169.5 0 0 1 179.92,503.43L183.87,504.11A165.5,165.5 0 0 0 183.50,506.34Z" fill="#b0c4de"/><path d="M373.44,364.57A169.5,169.5 0 0 1 375.66,364.94L374.98,368.88A165.5,165.5 0 0 0 372.81,368.53Z" fill="#f1e2cc"/><path d="M192.20,462.95A169.5,169.5 0 0 1 192.82,461.57L196.46,463.24A165.5,165.5 0 0 0 195.86,464.58Z" fill="#b0c4de"/><path d="M377.81,365.32A169.5,169.5 0 0 1 379.25,365.60L378.49,369.52A165.5,165.5 0 0 0 377.08,369.26Z" fill="#cccccc"/><path d="M215.76,424.73A169.5,169.5 0 0 1 216.66,423.64L219.74,426.19A165.5,165.5 0 0 0 218.86,427.26Z" fill="#b0c4de"/><path d="M379.25,365.60A169.5,169.5 0 0 1 380.60,365.86L379.81,369.78A165.5,165.5 0 0 0 378.49,369.52Z" fill="#1f77b4"/><path d="M250.87,392.39A169.5,169.5 0 0 1 251.65,391.86L253.90,395.17A165.5,165.5 0 0 0 253.14,395.69Z" fill="#b0c4de"/><path d="M382.65,366.29A169.5,169.5 0 0 1 383.54,366.49L382.68,370.39A165.5,165.5 0 0 0 381.81,370.20Z" fill="#ff7f0e"/><path d="M290.31,372.26A169.5,169.5 0 0 1 291.35,371.90L292.66,375.68A165.5,165.5 0 0 0 291.65,376.03Z" fill="#b0c4de"/><path d="M380.60,365.86A169.5,169.5 0 0 1 381.65,366.08L380.83,369.99A165.5,165.5 0 0 0 379.81,369.78Z" fill="#2ca02c"/><path d="M333.97,363.00A169.5,169.5 0 0 1 335.03,362.92L335.31,366.91A165.5,165.5 0 0 0 334.28,366.99Z" fill="#b0c4de"/><path d="M381.65,366.08A169.5,169.5 0 0 1 382.65,366.29L381.81,370.20A165.5,165.5 0 0 0 380.83,369.99Z" fill="#d62728"/><path d="M319.19,699.20A169.5,169.5 0 0 1 318.35,699.06L319.03,695.12A165.5,165.5 0 0 0 319.84,695.26Z" fill="#faefe4"/><path d="M400.52,371.17A169.5,169.5 0 0 1 401.30,371.43L400.02,375.22A165.5,165.5 0 0 0 399.25,374.97Z" fill="#b3e2cd"/><path d="M276.05,685.94A169.5,169.5 0 0 1 275.46,685.66L277.15,682.04A165.5,165.5 0 0 0 277.73,682.30Z" fill="#faefe4"/><path d="M402.70,371.91A169.5,169.5 0 0 1 403.30,372.12L401.97,375.90A165.5,165.5 0 0 0 401.39,375.69Z" fill="#fdcdac"/><path d="M239.45,663.01A169.5,169.5 0 0 1 238.66,662.36L241.22,659.28A165.5,165.5 0 0 0 241.99,659.92Z" fill="#faefe4"/><path d="M397.93,370.33A169.5,169.5 0 0 1 398.87,370.63L397.65,374.44A165.5,165.5 0 0 0 396.73,374.15Z" fill="#cbd5e8"/><path d="M208.46,629.66A169.5,169.5 0 0 1 207.95,628.94L211.24,626.65A165.5,165.5 0 0 0 211.73,627.35Z" fill="#faefe4"/><path d="M399.71,370.90A169.5,169.5 0 0 1 400.52,371.17L399.25,374.97A165.5,165.5 0 0 0 398.46,374.70Z" fill="#f4cae4"/><path d="M187.58,589.59A169.5,169.5 0 0 1 187.32,588.85L191.09,587.51A165.5,165.5 0 0 0 191.35,588.23Z" fill="#faefe4"/><path d="M401.30,371.43A169.5,169.5 0 0 1 402.02,371.68L400.72,375.46A165.5,165.5 0 0 0 400.02,375.22Z" fill="#e6f5c9"/><path d="M178.23,547.76A169.5,169.5 0 0 1 178.15,546.87L182.14,546.51A165.5,165.5 0 0 0 182.22,547.39Z" fill="#faefe4"/><path d="M398.87,370.63A169.5,169.5 0 0 1 399.71,370.90L398.46,374.70A165.5,165.5 0 0 0 397.65,374.44Z" fill="#fff2ae"/><path d="M180.30,501.30A169.5,169.5 0 0 1 180.44,500.57L184.37,501.31A165.5,165.5 0 0 0 184.24,502.02Z" fill="#faefe4"/><path d="M402.02,371.68A169.5,169.5 0 0 1 402.70,371.91L401.39,375.69A165.5,165.5 0 0 0 400.72,375.46Z" fill="#f1e2cc"/><path d="M192.82,461.57A169.5,169.5 0 0 1 193.30,460.55L196.92,462.24A165.5,165.5 0 0 0 196.46,463.24Z" fill="#faefe4"/><path d="M396.88,370.01A169.5,169.5 0 0 1 397.93,370.33L396.73,374.15A165.5,165.5 0 0 0 395.71,373.83Z" fill="#cccccc"/><path d="M216.66,423.64A169.5,169.5 0 0 1 217.58,422.55L220.63,425.13A165.5,165.5 0 0 0 219.74,426.19Z" fill="#faefe4"/><path d="M393.02,368.87A169.5,169.5 0 0 1 394.35,369.25L393.23,373.09A165.5,165.5 0 0 0 391.94,372.72Z" fill="#1f77b4"/><path d="M249.49,393.36A169.5,169.5 0 0 1 250.87,392.39L253.14,395.69A165.5,165.5 0 0 0 251.79,396.63Z" fill="#faefe4"/><path d="M391.44,368.43A169.5,169.5 0 0 1 393.02,368.87L391.94,372.72A165.5,165.5 0 0 0 390.39,372.29Z" fill="#ff7f0e"/><path d="M289.03,372.72A169.5,169.5 0 0 1 290.31,372.26L291.65,376.03A165.5,165.5 0 0 0 290.40,376.48Z" fill="#faefe4"/><path d="M394.35,369.25A169.5,169.5 0 0 1 395.62,369.62L394.47,373.46A165.5,165.5 0 0 0 393.23,373.09Z" fill="#2ca02c"/><path d="M331.40,363.22A169.5,169.5 0 0 1 332.75,363.10L333.09,367.09A165.5,165.5 0 0 0 331.77,367.20Z" fill="#faefe4"/><path d="M395.62,369.62A169.5,169.5 0 0 1 396.88,370.01L395.71,373.83A165.5,165.5 0 0 0 394.47,373.46Z" fill="#d62728"/><path d="M316.34,698.70A169.5,169.5 0 0 1 315.90,698.62L316.63,694.69A165.5,165.5 0 0 0 317.06,694.77Z" fill="#6495ed"/><path d="M414.55,376.54A169.5,169.5 0 0 1 414.94,376.71L413.34,380.38A165.5,165.5 0 0 0 412.95,380.21Z" fill="#b3e2cd"/><path d="M274.87,685.39A169.5,169.5 0 0 1 274.31,685.12L276.02,681.51A165.5,165.5 0 0 0 276.57,681.77Z" fill="#6495ed"/><path d="M413.00,375.88A169.5,169.5 0 0 1 413.56,376.11L411.99,379.79A165.5,165.5 0 0 0 411.44,379.56Z" fill="#fdcdac"/><path d="M235.78,659.91A169.5,169.5 0 0 1 235.60,659.75L238.23,656.73A165.5,165.5 0 0 0 238.41,656.89Z" fill="#6495ed"/><path d="M416.07,377.21A169.5,169.5 0 0 1 416.29,377.31L414.66,380.96A165.5,165.5 0 0 0 414.44,380.87Z" fill="#cbd5e8"/><path d="M206.71,627.13A169.5,169.5 0 0 1 206.47,626.77L209.78,624.53A165.5,165.5 0 0 0 210.02,624.89Z" fill="#6495ed"/><path d="M414.94,376.71A169.5,169.5 0 0 1 415.33,376.88L413.72,380.55A165.5,165.5 0 0 0 413.34,380.38Z" fill="#f4cae4"/><path d="M186.97,587.85A169.5,169.5 0 0 1 186.82,587.44L190.60,586.13A165.5,165.5 0 0 0 190.74,586.53Z" fill="#6495ed"/><path d="M415.33,376.88A169.5,169.5 0 0 1 415.72,377.06L414.10,380.71A165.5,165.5 0 0 0 413.72,380.55Z" fill="#e6f5c9"/><path d="M178.09,546.09A169.5,169.5 0 0 1 178.02,545.33L182.01,545.01A165.5,165.5 0 0 0 182.07,545.76Z" fill="#6495ed"/><path d="M412.31,375.59A169.5,169.5 0 0 1 413.00,375.88L411.44,379.56A165.5,165.5 0 0 0 410.77,379.28Z" fill="#fff2ae"/><path d="M180.56,499.91A169.5,169.5 0 0 1 180.68,499.30L184.61,500.08A165.5,165.5 0 0 0 184.49,500.67Z" fill="#6495ed"/><path d="M413.56,376.11A169.5,169.5 0 0 1 414.11,376.35L412.53,380.03A165.5,165.5 0 0 0 411.99,379.79Z" fill="#f1e2cc"/><path d="M194.74,457.52A169.5,169.5 0 0 1 194.96,457.08L198.54,458.85A165.5,165.5 0 0 0 198.34,459.27Z" fill="#6495ed"/><path d="M414.11,376.35A169.5,169.5 0 0 1 414.55,376.54L412.95,380.21A165.5,165.5 0 0 0 412.53,380.03Z" fill="#cccccc"/><path d="M217.58,422.55A169.5,169.5 0 0 1 218.18,421.84L221.22,424.44A165.5,165.5 0 0 0 220.63,425.13Z" fill="#6495ed"/><path d="M410.77,374.95A169.5,169.5 0 0 1 411.61,375.30L410.08,378.99A165.5,165.5 0 0 0 409.27,378.66Z" fill="#1f77b4"/><path d="M254.33,390.08A169.5,169.5 0 0 1 254.51,389.96L256.69,393.31A165.5,165.5 0 0 0 256.52,393.42Z" fill="#6495ed"/><path d="M416.29,377.31A169.5,169.5 0 0 1 416.48,377.40L414.84,381.04A165.5,165.5 0 0 0 414.66,380.96Z" fill="#ff7f0e"/><path d="M292.19,371.61A169.5,169.5 0 0 1 292.94,371.35L294.21,375.14A165.5,165.5 0 0 0 293.49,375.39Z" fill="#6495ed"/><path d="M411.61,375.30A169.5,169.5 0 0 1 412.31,375.59L410.77,379.28A165.5,165.5 0 0 0 410.08,378.99Z" fill="#2ca02c"/><path d="M337.55,362.76A169.5,169.5 0 0 1 337.95,362.74L338.16,366.74A165.5,165.5 0 0 0 337.77,366.76Z" fill="#6495ed"/><path d="M415.72,377.06A169.5,169.5 0 0 1 416.07,377.21L414.44,380.87A165.5,165.5 0 0 0 414.10,380.71Z" fill="#d62728"/><path d="M315.56,698.56A169.5,169.5 0 0 1 315.28,698.51L316.03,694.58A165.5,165.5 0 0 0 316.30,694.63Z" fill="#cd5c5c"/><path d="M426.81,382.47A169.5,169.5 0 0 1 427.05,382.60L425.17,386.12A165.5,165.5 0 0 0 424.93,386.00Z" fill="#b3e2cd"/><path d="M273.20,684.59A169.5,169.5 0 0 1 272.98,684.48L274.72,680.88A165.5,165.5 0 0 0 274.94,680.99Z" fill="#cd5c5c"/><path d="M427.28,382.72A169.5,169.5 0 0 1 427.49,382.83L425.59,386.35A165.5,165.5 0 0 0 425.38,386.24Z" fill="#fdcdac"/><path d="M236.26,660.32A169.5,169.5 0 0 1 236.00,660.09L238.61,657.07A165.5,165.5 0 0 0 238.87,657.29Z" fill="#cd5c5c"/><path d="M426.22,382.15A169.5,169.5 0 0 1 426.52,382.31L424.64,385.84A165.5,165.5 0 0 0 424.35,385.69Z" fill="#cbd5e8"/><path d="M208.99,630.40A169.5,169.5 0 0 1 208.46,629.66L211.73,627.35A165.5,165.5 0 0 0 212.25,628.08Z" fill="#cd5c5c"/><path d="M423.42,380.71A169.5,169.5 0 0 1 424.22,381.11L422.40,384.67A165.5,165.5 0 0 0 421.62,384.28Z" fill="#f4cae4"/><path d="M186.60,586.80A169.5,169.5 0 0 1 186.53,586.58L190.31,585.29A165.5,165.5 0 0 0 190.39,585.50Z" fill="#cd5c5c"/><path d="M427.49,382.83A169.5,169.5 0 0 1 427.69,382.94L425.78,386.45A165.5,165.5 0 0 0 425.59,386.35Z" fill="#e6f5c9"/><path d="M177.94,544.17A169.5,169.5 0 0 1 177.90,543.62L181.89,543.34A165.5,165.5 0 0 0 181.93,543.88Z" fill="#cd5c5c"/><path d="M425.34,381.69A169.5,169.5 0 0 1 425.81,381.94L423.95,385.48A165.5,165.5 0 0 0 423.49,385.24Z" fill="#fff2ae"/><path d="M180.44,500.57A169.5,169.5 0 0 1 180.56,499.91L184.49,500.67A165.5,165.5 0 0 0 184.37,501.31Z" fill="#cd5c5c"/><path d="M424.22,381.11A169.5,169.5 0 0 1 424.79,381.41L422.96,384.96A165.5,165.5 0 0 0 422.40,384.67Z" fill="#f1e2cc"/><path d="M194.96,457.08A169.5,169.5 0 0 1 195.17,456.66L198.75,458.43A165.5,165.5 0 0 0 198.54,458.85Z" fill="#cd5c5c"/><path d="M425.81,381.94A169.5,169.5 0 0 1 426.22,382.15L424.35,385.69A165.5,165.5 0 0 0 423.95,385.48Z" fill="#cccccc"/><path d="M219.05,420.83A169.5,169.5 0 0 1 219.46,420.36L222.47,422.99A165.5,165.5 0 0 0 222.07,423.45Z" fill="#cd5c5c"/><path d="M424.79,381.41A169.5,169.5 0 0 1 425.34,381.69L423.49,385.24A165.5,165.5 0 0 0 422.96,384.96Z" fill="#1f77b4"/><path d="M254.14,390.20A169.5,169.5 0 0 1 254.33,390.08L256.52,393.42A165.5,165.5 0 0 0 256.33,393.54Z" fill="#cd5c5c"/><path d="M427.69,382.94A169.5,169.5 0 0 1 427.88,383.04L425.97,386.56A165.5,165.5 0 0 0 425.78,386.45Z" fill="#ff7f0e"/><path d="M294.33,370.89A169.5,169.5 0 0 1 294.58,370.81L295.82,374.61A165.5,165.5 0 0 0 295.58,374.69Z" fill="#cd5c5c"/><path d="M427.05,382.60A169.5,169.5 0 0 1 427.28,382.72L425.38,386.24A165.5,165.5 0 0 0 425.17,386.12Z" fill="#2ca02c"/><path d="M337.95,362.74A169.5,169.5 0 0 1 338.29,362.72L338.50,366.72A165.5,165.5 0 0 0 338.16,366.74Z" fill="#cd5c5c"/><path d="M426.52,382.31A169.5,169.5 0 0 1 426.81,382.47L424.93,386.00A165.5,165.5 0 0 0 424.64,385.84Z" fill="#d62728"/><path d="M320.12,699.35A169.5,169.5 0 0 1 319.19,699.20L319.84,695.26A165.5,165.5 0 0 0 320.75,695.41Z" fill="#ba55d3"/><path d="M438.42,389.27A169.5,169.5 0 0 1 439.18,389.76L437.01,393.12A165.5,165.5 0 0 0 436.26,392.63Z" fill="#b3e2cd"/><path d="M275.46,685.66A169.5,169.5 0 0 1 274.87,685.39L276.57,681.77A165.5,165.5 0 0 0 277.15,682.04Z" fill="#ba55d3"/><path d="M441.10,391.02A169.5,169.5 0 0 1 441.62,391.37L439.39,394.69A165.5,165.5 0 0 0 438.88,394.34Z" fill="#fdcdac"/><path d="M237.09,661.03A169.5,169.5 0 0 1 236.67,660.67L239.27,657.64A165.5,165.5 0 0 0 239.68,657.99Z" fill="#ba55d3"/><path d="M442.56,392.01A169.5,169.5 0 0 1 443.01,392.31L440.74,395.61A165.5,165.5 0 0 0 440.31,395.31Z" fill="#cbd5e8"/><path d="M209.66,631.34A169.5,169.5 0 0 1 208.99,630.40L212.25,628.08A165.5,165.5 0 0 0 212.90,629.00Z" fill="#ba55d3"/><path d="M436.57,388.10A169.5,169.5 0 0 1 437.52,388.70L435.39,392.08A165.5,165.5 0 0 0 434.46,391.50Z" fill="#f4cae4"/><path d="M187.32,588.85A169.5,169.5 0 0 1 187.13,588.32L190.90,586.99A165.5,165.5 0 0 0 191.09,587.51Z" fill="#ba55d3"/><path d="M442.11,391.70A169.5,169.5 0 0 1 442.56,392.01L440.31,395.31A165.5,165.5 0 0 0 439.86,395.01Z" fill="#e6f5c9"/><path d="M178.02,545.33A169.5,169.5 0 0 1 177.98,544.73L181.97,544.43A165.5,165.5 0 0 0 182.01,545.01Z" fill="#ba55d3"/><path d="M441.62,391.37A169.5,169.5 0 0 1 442.11,391.70L439.86,395.01A165.5,165.5 0 0 0 439.39,394.69Z" fill="#fff2ae"/><path d="M179.92,503.43A169.5,169.5 0 0 1 180.13,502.23L184.07,502.93A165.5,165.5 0 0 0 183.87,504.11Z" fill="#ba55d3"/><path d="M434.55,386.86A169.5,169.5 0 0 1 435.56,387.48L433.47,390.89A165.5,165.5 0 0 0 432.49,390.29Z" fill="#f1e2cc"/><path d="M193.30,460.55A169.5,169.5 0 0 1 193.76,459.56L197.37,461.27A165.5,165.5 0 0 0 196.92,462.24Z" fill="#ba55d3"/><path d="M437.52,388.70A169.5,169.5 0 0 1 438.42,389.27L436.26,392.63A165.5,165.5 0 0 0 435.39,392.08Z" fill="#cccccc"/><path d="M218.62,421.32A169.5,169.5 0 0 1 219.05,420.83L222.07,423.45A165.5,165.5 0 0 0 221.65,423.93Z" fill="#ba55d3"/><path d="M440.57,390.67A169.5,169.5 0 0 1 441.10,391.02L438.88,394.34A165.5,165.5 0 0 0 438.36,394.00Z" fill="#1f77b4"/><path d="M251.65,391.86A169.5,169.5 0 0 1 252.32,391.41L254.55,394.73A165.5,165.5 0 0 0 253.90,395.17Z" fill="#ba55d3"/><path d="M439.91,390.23A169.5,169.5 0 0 1 440.57,390.67L438.36,394.00A165.5,165.5 0 0 0 437.72,393.58Z" fill="#ff7f0e"/><path d="M291.35,371.90A169.5,169.5 0 0 1 292.19,371.61L293.49,375.39A165.5,165.5 0 0 0 292.66,375.68Z" fill="#ba55d3"/><path d="M439.18,389.76A169.5,169.5 0 0 1 439.91,390.23L437.72,393.58A165.5,165.5 0 0 0 437.01,393.12Z" fill="#2ca02c"/><path d="M332.75,363.10A169.5,169.5 0 0 1 333.97,363.00L334.28,366.99A165.5,165.5 0 0 0 333.09,367.09Z" fill="#ba55d3"/><path d="M435.56,387.48A169.5,169.5 0 0 1 436.57,388.10L434.46,391.50A165.5,165.5 0 0 0 433.47,390.89Z" fill="#d62728"/><path d="M316.80,698.79A169.5,169.5 0 0 1 316.34,698.70L317.06,694.77A165.5,165.5 0 0 0 317.51,694.85Z" fill="#3cb371"/><path d="M451.40,398.47A169.5,169.5 0 0 1 451.76,398.75L449.29,401.89A165.5,165.5 0 0 0 448.94,401.62Z" fill="#b3e2cd"/><path d="M273.43,684.70A169.5,169.5 0 0 1 273.20,684.59L274.94,680.99A165.5,165.5 0 0 0 275.16,681.10Z" fill="#3cb371"/><path d="M453.14,399.84A169.5,169.5 0 0 1 453.33,400.00L450.82,403.11A165.5,165.5 0 0 0 450.63,402.96Z" fill="#fdcdac"/><path d="M236.67,660.67A169.5,169.5 0 0 1 236.26,660.32L238.87,657.29A165.5,165.5 0 0 0 239.27,657.64Z" fill="#3cb371"/><path d="M450.61,397.85A169.5,169.5 0 0 1 451.02,398.17L448.56,401.33A165.5,165.5 0 0 0 448.16,401.02Z" fill="#cbd5e8"/><path d="M206.28,626.49A169.5,169.5 0 0 1 206.13,626.27L209.46,624.04A165.5,165.5 0 0 0 209.60,624.26Z" fill="#3cb371"/><path d="M452.73,399.52A169.5,169.5 0 0 1 452.94,399.69L450.44,402.81A165.5,165.5 0 0 0 450.24,402.65Z" fill="#f4cae4"/><path d="M186.69,587.04A169.5,169.5 0 0 1 186.60,586.80L190.39,585.50A165.5,165.5 0 0 0 190.47,585.74Z" fill="#3cb371"/><path d="M452.94,399.69A169.5,169.5 0 0 1 453.14,399.84L450.63,402.96A165.5,165.5 0 0 0 450.44,402.81Z" fill="#e6f5c9"/><path d="M177.90,543.62A169.5,169.5 0 0 1 177.87,543.12L181.86,542.86A165.5,165.5 0 0 0 181.89,543.34Z" fill="#3cb371"/><path d="M451.02,398.17A169.5,169.5 0 0 1 451.40,398.47L448.94,401.62A165.5,165.5 0 0 0 448.56,401.33Z" fill="#fff2ae"/><path d="M180.89,498.25A169.5,169.5 0 0 1 180.94,498.00L184.86,498.81A165.5,165.5 0 0 0 184.81,499.05Z" fill="#3cb371"/><path d="M453.33,400.00A169.5,169.5 0 0 1 453.52,400.15L451.00,403.26A165.5,165.5 0 0 0 450.82,403.11Z" fill="#f1e2cc"/><path d="M195.37,456.24A169.5,169.5 0 0 1 195.56,455.87L199.13,457.66A165.5,165.5 0 0 0 198.95,458.03Z" fill="#3cb371"/><path d="M452.42,399.27A169.5,169.5 0 0 1 452.73,399.52L450.24,402.65A165.5,165.5 0 0 0 449.93,402.40Z" fill="#cccccc"/><path d="M220.53,419.15A169.5,169.5 0 0 1 220.66,419.00L223.64,421.67A165.5,165.5 0 0 0 223.51,421.81Z" fill="#3cb371"/><path d="M453.52,400.15A169.5,169.5 0 0 1 453.67,400.27L451.15,403.38A165.5,165.5 0 0 0 451.00,403.26Z" fill="#1f77b4"/><path d="M253.27,390.77A169.5,169.5 0 0 1 253.63,390.54L255.83,393.87A165.5,165.5 0 0 0 255.49,394.10Z" fill="#3cb371"/><path d="M452.09,399.01A169.5,169.5 0 0 1 452.42,399.27L449.93,402.40A165.5,165.5 0 0 0 449.61,402.15Z" fill="#ff7f0e"/><path d="M292.94,371.35A169.5,169.5 0 0 1 293.45,371.18L294.72,374.98A165.5,165.5 0 0 0 294.21,375.14Z" fill="#3cb371"/><path d="M450.19,397.53A169.5,169.5 0 0 1 450.61,397.85L448.16,401.02A165.5,165.5 0 0 0 447.75,400.70Z" fill="#2ca02c"/><path d="M336.70,362.81A169.5,169.5 0 0 1 337.14,362.79L337.37,366.78A165.5,165.5 0 0 0 336.95,366.81Z" fill="#3cb371"/><path d="M451.76,398.75A169.5,169.5 0 0 1 452.09,399.01L449.61,402.15A165.5,165.5 0 0 0 449.29,401.89Z" fill="#d62728"/><path d="M318.35,699.06A169.5,169.5 0 0 1 317.53,698.92L318.22,694.98A165.5,165.5 0 0 0 319.03,695.12Z" fill="#7b68ee"/><path d="M462.23,407.69A169.5,169.5 0 0 1 462.82,408.25L460.09,411.17A165.5,165.5 0 0 0 459.51,410.62Z" fill="#b3e2cd"/><path d="M273.80,684.88A169.5,169.5 0 0 1 273.43,684.70L275.16,681.10A165.5,165.5 0 0 0 275.53,681.27Z" fill="#7b68ee"/><path d="M465.52,410.82A169.5,169.5 0 0 1 465.80,411.10L463.00,413.96A165.5,165.5 0 0 0 462.72,413.68Z" fill="#fdcdac"/><path d="M238.05,661.84A169.5,169.5 0 0 1 237.54,661.42L240.13,658.37A165.5,165.5 0 0 0 240.62,658.78Z" fill="#7b68ee"/><path d="M464.32,409.67A169.5,169.5 0 0 1 464.78,410.11L462.00,412.99A165.5,165.5 0 0 0 461.55,412.55Z" fill="#cbd5e8"/><path d="M207.95,628.94A169.5,169.5 0 0 1 207.46,628.22L210.75,625.95A165.5,165.5 0 0 0 211.24,626.65Z" fill="#7b68ee"/><path d="M461.60,407.12A169.5,169.5 0 0 1 462.23,407.69L459.51,410.62A165.5,165.5 0 0 0 458.90,410.06Z" fill="#f4cae4"/><path d="M187.13,588.32A169.5,169.5 0 0 1 186.97,587.85L190.74,586.53A165.5,165.5 0 0 0 190.90,586.99Z" fill="#7b68ee"/><path d="M465.17,410.49A169.5,169.5 0 0 1 465.52,410.82L462.72,413.68A165.5,165.5 0 0 0 462.39,413.36Z" fill="#e6f5c9"/><path d="M177.98,544.73A169.5,169.5 0 0 1 177.94,544.17L181.93,543.88A165.5,165.5 0 0 0 181.97,544.43Z" fill="#7b68ee"/><path d="M464.78,410.11A169.5,169.5 0 0 1 465.17,410.49L462.39,413.36A165.5,165.5 0 0 0 462.00,412.99Z" fill="#fff2ae"/><path d="M180.13,502.23A169.5,169.5 0 0 1 180.30,501.30L184.24,502.02A165.5,165.5 0 0 0 184.07,502.93Z" fill="#7b68ee"/><path d="M460.92,406.50A169.5,169.5 0 0 1 461.60,407.12L458.90,410.06A165.5,165.5 0 0 0 458.24,409.46Z" fill="#f1e2cc"/><path d="M193.76,459.56A169.5,169.5 0 0 1 194.19,458.65L197.80,460.38A165.5,165.5 0 0 0 197.37,461.27Z" fill="#7b68ee"/><path d="M460.20,405.84A169.5,169.5 0 0 1 460.92,406.50L458.24,409.46A165.5,165.5 0 0 0 457.53,408.82Z" fill="#cccccc"/><path d="M218.18,421.84A169.5,169.5 0 0 1 218.62,421.32L221.65,423.93A165.5,165.5 0 0 0 221.22,424.44Z" fill="#7b68ee"/><path d="M463.38,408.76A169.5,169.5 0 0 1 463.85,409.22L461.10,412.12A165.5,165.5 0 0 0 460.63,411.67Z" fill="#1f77b4"/><path d="M252.32,391.41A169.5,169.5 0 0 1 252.87,391.04L255.09,394.37A165.5,165.5 0 0 0 254.55,394.73Z" fill="#7b68ee"/><path d="M463.85,409.22A169.5,169.5 0 0 1 464.32,409.67L461.55,412.55A165.5,165.5 0 0 0 461.10,412.12Z" fill="#ff7f0e"/><path d="M293.77,371.08A169.5,169.5 0 0 1 294.06,370.98L295.31,374.78A165.5,165.5 0 0 0 295.03,374.87Z" fill="#7b68ee"/><path d="M465.80,411.10A169.5,169.5 0 0 1 466.01,411.31L463.21,414.16A165.5,165.5 0 0 0 463.00,413.96Z" fill="#2ca02c"/><path d="M335.93,362.86A169.5,169.5 0 0 1 336.70,362.81L336.95,366.81A165.5,165.5 0 0 0 336.19,366.85Z" fill="#7b68ee"/><path d="M462.82,408.25A169.5,169.5 0 0 1 463.38,408.76L460.63,411.67A165.5,165.5 0 0 0 460.09,411.17Z" fill="#d62728"/><path d="M317.53,698.92A169.5,169.5 0 0 1 316.80,698.79L317.51,694.85A165.5,165.5 0 0 0 318.22,694.98Z" fill="#48d1cc"/><path d="M473.98,419.72A169.5,169.5 0 0 1 474.46,420.26L471.45,422.90A165.5,165.5 0 0 0 470.99,422.37Z" fill="#b3e2cd"/><path d="M276.89,686.32A169.5,169.5 0 0 1 276.05,685.94L277.73,682.30A165.5,165.5 0 0 0 278.54,682.68Z" fill="#48d1cc"/><path d="M471.77,417.27A169.5,169.5 0 0 1 472.37,417.93L469.41,420.62A165.5,165.5 0 0 0 468.82,419.98Z" fill="#fdcdac"/><path d="M238.66,662.36A169.5,169.5 0 0 1 238.05,661.84L240.62,658.78A165.5,165.5 0 0 0 241.22,659.28Z" fill="#48d1cc"/><path d="M472.96,418.58A169.5,169.5 0 0 1 473.48,419.16L470.50,421.82A165.5,165.5 0 0 0 469.99,421.26Z" fill="#cbd5e8"/><path d="M207.07,627.65A169.5,169.5 0 0 1 206.71,627.13L210.02,624.89A165.5,165.5 0 0 0 210.37,625.40Z" fill="#48d1cc"/><path d="M474.89,420.76A169.5,169.5 0 0 1 475.29,421.23L472.27,423.84A165.5,165.5 0 0 0 471.87,423.39Z" fill="#f4cae4"/><path d="M186.82,587.44A169.5,169.5 0 0 1 186.69,587.04L190.47,585.74A165.5,165.5 0 0 0 190.60,586.13Z" fill="#48d1cc"/><path d="M475.59,421.56A169.5,169.5 0 0 1 475.85,421.88L472.81,424.47A165.5,165.5 0 0 0 472.55,424.17Z" fill="#e6f5c9"/><path d="M178.15,546.87A169.5,169.5 0 0 1 178.09,546.09L182.07,545.76A165.5,165.5 0 0 0 182.14,546.51Z" fill="#48d1cc"/><path d="M473.48,419.16A169.5,169.5 0 0 1 473.98,419.72L470.99,422.37A165.5,165.5 0 0 0 470.50,421.82Z" fill="#fff2ae"/><path d="M180.83,498.56A169.5,169.5 0 0 1 180.89,498.25L184.81,499.05A165.5,165.5 0 0 0 184.75,499.35Z" fill="#48d1cc"/><path d="M476.27,422.36A169.5,169.5 0 0 1 476.46,422.59L473.41,425.18A165.5,165.5 0 0 0 473.22,424.95Z" fill="#f1e2cc"/><path d="M194.19,458.65A169.5,169.5 0 0 1 194.49,458.04L198.09,459.78A165.5,165.5 0 0 0 197.80,460.38Z" fill="#48d1cc"/><path d="M474.46,420.26A169.5,169.5 0 0 1 474.89,420.76L471.87,423.39A165.5,165.5 0 0 0 471.45,422.90Z" fill="#cccccc"/><path d="M220.22,419.49A169.5,169.5 0 0 1 220.53,419.15L223.51,421.81A165.5,165.5 0 0 0 223.21,422.15Z" fill="#48d1cc"/><path d="M475.29,421.23A169.5,169.5 0 0 1 475.59,421.56L472.55,424.17A165.5,165.5 0 0 0 472.27,423.84Z" fill="#1f77b4"/><path d="M253.63,390.54A169.5,169.5 0 0 1 253.90,390.36L256.10,393.70A165.5,165.5 0 0 0 255.83,393.87Z" fill="#48d1cc"/><path d="M476.06,422.12A169.5,169.5 0 0 1 476.27,422.36L473.22,424.95A165.5,165.5 0 0 0 473.02,424.71Z" fill="#ff7f0e"/><path d="M293.45,371.18A169.5,169.5 0 0 1 293.77,371.08L295.03,374.87A165.5,165.5 0 0 0 294.72,374.98Z" fill="#48d1cc"/><path d="M475.85,421.88A169.5,169.5 0 0 1 476.06,422.12L473.02,424.71A165.5,165.5 0 0 0 472.81,424.47Z" fill="#2ca02c"/><path d="M335.03,362.92A169.5,169.5 0 0 1 335.93,362.86L336.19,366.85A165.5,165.5 0 0 0 335.31,366.91Z" fill="#48d1cc"/><path d="M472.37,417.93A169.5,169.5 0 0 1 472.96,418.58L469.99,421.26A165.5,165.5 0 0 0 469.41,420.62Z" fill="#d62728"/><path d="M315.28,698.51A169.5,169.5 0 0 1 315.09,698.47L315.85,694.54A165.5,165.5 0 0 0 316.03,694.58Z" fill="#008b8b"/><path d="M484.29,432.59A169.5,169.5 0 0 1 484.40,432.74L481.16,435.09A165.5,165.5 0 0 0 481.05,434.94Z" fill="#b3e2cd"/><path d="M272.98,684.48A169.5,169.5 0 0 1 272.78,684.38L274.53,680.79A165.5,165.5 0 0 0 274.72,680.88Z" fill="#008b8b"/><path d="M484.16,432.41A169.5,169.5 0 0 1 484.29,432.59L481.05,434.94A165.5,165.5 0 0 0 480.92,434.76Z" fill="#fdcdac"/><path d="M236.00,660.09A169.5,169.5 0 0 1 235.78,659.91L238.41,656.89A165.5,165.5 0 0 0 238.61,657.07Z" fill="#008b8b"/><path d="M484.00,432.19A169.5,169.5 0 0 1 484.16,432.41L480.92,434.76A165.5,165.5 0 0 0 480.77,434.55Z" fill="#cbd5e8"/><path d="M207.46,628.22A169.5,169.5 0 0 1 207.07,627.65L210.37,625.40A165.5,165.5 0 0 0 210.75,625.95Z" fill="#008b8b"/><path d="M481.83,429.28A169.5,169.5 0 0 1 482.24,429.82L479.04,432.23A165.5,165.5 0 0 0 478.65,431.71Z" fill="#f4cae4"/><path d="M186.46,586.39A169.5,169.5 0 0 1 186.42,586.26L190.21,584.98A165.5,165.5 0 0 0 190.25,585.10Z" fill="#008b8b"/><path d="M484.40,432.74A169.5,169.5 0 0 1 484.48,432.85L481.23,435.19A165.5,165.5 0 0 0 481.16,435.09Z" fill="#e6f5c9"/><path d="M177.87,543.12A169.5,169.5 0 0 1 177.84,542.79L181.84,542.53A165.5,165.5 0 0 0 181.86,542.86Z" fill="#008b8b"/><path d="M483.64,431.70A169.5,169.5 0 0 1 483.83,431.97L480.61,434.33A165.5,165.5 0 0 0 480.42,434.07Z" fill="#fff2ae"/><path d="M180.68,499.30A169.5,169.5 0 0 1 180.77,498.88L184.69,499.66A165.5,165.5 0 0 0 184.61,500.08Z" fill="#008b8b"/><path d="M483.20,431.10A169.5,169.5 0 0 1 483.45,431.44L480.23,433.81A165.5,165.5 0 0 0 479.98,433.48Z" fill="#f1e2cc"/><path d="M194.49,458.04A169.5,169.5 0 0 1 194.74,457.52L198.34,459.27A165.5,165.5 0 0 0 198.09,459.78Z" fill="#008b8b"/><path d="M482.58,430.27A169.5,169.5 0 0 1 482.92,430.72L479.71,433.11A165.5,165.5 0 0 0 479.38,432.67Z" fill="#cccccc"/><path d="M219.46,420.36A169.5,169.5 0 0 1 219.85,419.91L222.85,422.56A165.5,165.5 0 0 0 222.47,422.99Z" fill="#008b8b"/><path d="M482.24,429.82A169.5,169.5 0 0 1 482.58,430.27L479.38,432.67A165.5,165.5 0 0 0 479.04,432.23Z" fill="#1f77b4"/><path d="M252.87,391.04A169.5,169.5 0 0 1 253.27,390.77L255.49,394.10A165.5,165.5 0 0 0 255.09,394.37Z" fill="#008b8b"/><path d="M482.92,430.72A169.5,169.5 0 0 1 483.20,431.10L479.98,433.48A165.5,165.5 0 0 0 479.71,433.11Z" fill="#ff7f0e"/><path d="M294.06,370.98A169.5,169.5 0 0 1 294.33,370.89L295.58,374.69A165.5,165.5 0 0 0 295.31,374.78Z" fill="#008b8b"/><path d="M483.83,431.97A169.5,169.5 0 0 1 484.00,432.19L480.77,434.55A165.5,165.5 0 0 0 480.61,434.33Z" fill="#2ca02c"/><path d="M338.29,362.72A169.5,169.5 0 0 1 338.63,362.71L338.83,366.70A165.5,165.5 0 0 0 338.50,366.72Z" fill="#008b8b"/><path d="M483.45,431.44A169.5,169.5 0 0 1 483.64,431.70L480.42,434.07A165.5,165.5 0 0 0 480.23,433.81Z" fill="#d62728"/><path d="M315.90,698.62A169.5,169.5 0 0 1 315.56,698.56L316.30,694.63A165.5,165.5 0 0 0 316.63,694.69Z" fill="#f4a460"/><path d="M490.67,442.06A169.5,169.5 0 0 1 490.85,442.35L487.45,444.46A165.5,165.5 0 0 0 487.28,444.18Z" fill="#b3e2cd"/><path d="M274.31,685.12A169.5,169.5 0 0 1 273.80,684.88L275.53,681.27A165.5,165.5 0 0 0 276.02,681.51Z" fill="#f4a460"/><path d="M489.92,440.88A169.5,169.5 0 0 1 490.22,441.34L486.84,443.48A165.5,165.5 0 0 0 486.55,443.03Z" fill="#fdcdac"/><path d="M237.54,661.42A169.5,169.5 0 0 1 237.09,661.03L239.68,657.99A165.5,165.5 0 0 0 240.13,658.37Z" fill="#f4a460"/><path d="M489.32,439.93A169.5,169.5 0 0 1 489.63,440.42L486.26,442.58A165.5,165.5 0 0 0 485.96,442.10Z" fill="#cbd5e8"/><path d="M206.47,626.77A169.5,169.5 0 0 1 206.28,626.49L209.60,624.26A165.5,165.5 0 0 0 209.78,624.53Z" fill="#f4a460"/><path d="M491.02,442.62A169.5,169.5 0 0 1 491.19,442.89L487.78,444.99A165.5,165.5 0 0 0 487.62,444.73Z" fill="#f4cae4"/><path d="M186.53,586.58A169.5,169.5 0 0 1 186.46,586.39L190.25,585.10A165.5,165.5 0 0 0 190.31,585.29Z" fill="#f4a460"/><path d="M491.48,443.37A169.5,169.5 0 0 1 491.58,443.53L488.17,445.62A165.5,165.5 0 0 0 488.07,445.46Z" fill="#e6f5c9"/><path d="M177.84,542.79A169.5,169.5 0 0 1 177.83,542.50L181.82,542.25A165.5,165.5 0 0 0 181.84,542.53Z" fill="#f4a460"/><path d="M491.19,442.89A169.5,169.5 0 0 1 491.33,443.13L487.93,445.23A165.5,165.5 0 0 0 487.78,444.99Z" fill="#fff2ae"/><path d="M180.77,498.88A169.5,169.5 0 0 1 180.83,498.56L184.75,499.35A165.5,165.5 0 0 0 184.69,499.66Z" fill="#f4a460"/><path d="M490.85,442.35A169.5,169.5 0 0 1 491.02,442.62L487.62,444.73A165.5,165.5 0 0 0 487.45,444.46Z" fill="#f1e2cc"/><path d="M195.17,456.66A169.5,169.5 0 0 1 195.37,456.24L198.95,458.03A165.5,165.5 0 0 0 198.75,458.43Z" fill="#f4a460"/><path d="M490.22,441.34A169.5,169.5 0 0 1 490.46,441.72L487.07,443.85A165.5,165.5 0 0 0 486.84,443.48Z" fill="#cccccc"/><path d="M219.85,419.91A169.5,169.5 0 0 1 220.22,419.49L223.21,422.15A165.5,165.5 0 0 0 222.85,422.56Z" fill="#f4a460"/><path d="M489.63,440.42A169.5,169.5 0 0 1 489.92,440.88L486.55,443.03A165.5,165.5 0 0 0 486.26,442.58Z" fill="#1f77b4"/><path d="M253.90,390.36A169.5,169.5 0 0 1 254.14,390.20L256.33,393.54A165.5,165.5 0 0 0 256.10,393.70Z" fill="#f4a460"/><path d="M491.33,443.13A169.5,169.5 0 0 1 491.48,443.37L488.07,445.46A165.5,165.5 0 0 0 487.93,445.23Z" fill="#ff7f0e"/><path d="M294.58,370.81A169.5,169.5 0 0 1 294.76,370.75L296.00,374.56A165.5,165.5 0 0 0 295.82,374.61Z" fill="#f4a460"/><path d="M491.58,443.53A169.5,169.5 0 0 1 491.68,443.69L488.26,445.77A165.5,165.5 0 0 0 488.17,445.62Z" fill="#2ca02c"/><path d="M337.14,362.79A169.5,169.5 0 0 1 337.55,362.76L337.77,366.76A165.5,165.5 0 0 0 337.37,366.78Z" fill="#f4a460"/><path d="M490.46,441.72A169.5,169.5 0 0 1 490.67,442.06L487.28,444.18A165.5,165.5 0 0 0 487.07,443.85Z" fill="#d62728"/><path d="M351.53,704.94A173.0,173.0 0 0 1 325.32,703.64L325.76,700.16A169.5,169.5 0 0 0 351.44,701.44Z" fill="#fff" fill-opacity="0.35"/><path d="M432.19,682.57A173.0,173.0 0 0 1 408.43,693.72L407.19,690.45A169.5,169.5 0 0 0 430.47,679.53Z" fill="#fff" fill-opacity="0.35"/><path d="M351.44,701.44A169.5,169.5 0 0 1 325.76,700.16L326.26,696.19A165.5,165.5 0 0 0 351.33,697.44Z" fill="#6b8e23"/><path d="M430.47,679.53A169.5,169.5 0 0 1 407.19,690.45L405.77,686.71A165.5,165.5 0 0 0 428.50,676.04Z" fill="#b3e2cd"/><path d="M306.26,700.14A173.0,173.0 0 0 1 282.14,692.38L283.45,689.14A169.5,169.5 0 0 0 307.09,696.73Z" fill="#fff" fill-opacity="0.35"/><path d="M408.43,693.72A173.0,173.0 0 0 1 384.15,700.96L383.40,697.55A169.5,169.5 0 0 0 407.19,690.45Z" fill="#fff" fill-opacity="0.35"/><path d="M307.09,696.73A169.5,169.5 0 0 1 283.45,689.14L284.95,685.43A165.5,165.5 0 0 0 308.03,692.85Z" fill="#6b8e23"/><path d="M407.19,690.45A169.5,169.5 0 0 1 383.40,697.55L382.54,693.64A165.5,165.5 0 0 0 405.77,686.71Z" fill="#fdcdac"/><path d="M263.82,683.69A173.0,173.0 0 0 1 243.27,670.45L245.37,667.65A169.5,169.5 0 0 0 265.50,680.62Z" fill="#fff" fill-opacity="0.35"/><path d="M384.15,700.96A173.0,173.0 0 0 1 359.97,704.51L359.71,701.02A169.5,169.5 0 0 0 383.40,697.55Z" fill="#fff" fill-opacity="0.35"/><path d="M265.50,680.62A169.5,169.5 0 0 1 245.37,667.65L247.77,664.45A165.5,165.5 0 0 0 267.42,677.11Z" fill="#6b8e23"/><path d="M383.40,697.55A169.5,169.5 0 0 1 359.71,701.02L359.41,697.03A165.5,165.5 0 0 0 382.54,693.64Z" fill="#cbd5e8"/><path d="M227.13,656.74A173.0,173.0 0 0 1 208.18,635.24L210.99,633.16A169.5,169.5 0 0 0 229.55,654.22Z" fill="#fff" fill-opacity="0.35"/><path d="M519.86,538.94A173.0,173.0 0 0 1 516.34,567.38L512.92,566.66A169.5,169.5 0 0 0 516.36,538.80Z" fill="#fff" fill-opacity="0.35"/><path d="M229.55,654.22A169.5,169.5 0 0 1 210.99,633.16L214.20,630.77A165.5,165.5 0 0 0 232.33,651.33Z" fill="#6b8e23"/><path d="M516.36,538.80A169.5,169.5 0 0 1 512.92,566.66L509.00,565.84A165.5,165.5 0 0 0 512.37,538.64Z" fill="#f4cae4"/><path d="M198.74,621.15A173.0,173.0 0 0 1 185.30,593.49L188.57,592.25A169.5,169.5 0 0 0 201.74,619.35Z" fill="#fff" fill-opacity="0.35"/><path d="M494.98,621.62A173.0,173.0 0 0 1 476.77,646.41L474.14,644.09A169.5,169.5 0 0 0 491.98,619.81Z" fill="#fff" fill-opacity="0.35"/><path d="M201.74,619.35A169.5,169.5 0 0 1 188.57,592.25L192.31,590.82A165.5,165.5 0 0 0 205.17,617.29Z" fill="#6b8e23"/><path d="M491.98,619.81A169.5,169.5 0 0 1 474.14,644.09L471.14,641.45A165.5,165.5 0 0 0 488.56,617.73Z" fill="#e6f5c9"/><path d="M180.62,579.39A173.0,173.0 0 0 1 175.15,551.88L178.62,551.48A169.5,169.5 0 0 0 183.98,578.44Z" fill="#fff" fill-opacity="0.35"/><path d="M455.40,666.83A173.0,173.0 0 0 1 432.19,682.57L430.47,679.53A169.5,169.5 0 0 0 453.21,664.10Z" fill="#fff" fill-opacity="0.35"/><path d="M183.98,578.44A169.5,169.5 0 0 1 178.62,551.48L182.60,551.02A165.5,165.5 0 0 0 187.83,577.34Z" fill="#6b8e23"/><path d="M453.21,664.10A169.5,169.5 0 0 1 430.47,679.53L428.50,676.04A165.5,165.5 0 0 0 450.70,660.98Z" fill="#fff2ae"/><path d="M174.02,534.36A173.0,173.0 0 0 1 176.09,505.18L179.55,505.72A169.5,169.5 0 0 0 177.52,534.31Z" fill="#fff" fill-opacity="0.35"/><path d="M507.96,595.40A173.0,173.0 0 0 1 494.98,621.62L491.98,619.81A169.5,169.5 0 0 0 504.71,594.12Z" fill="#fff" fill-opacity="0.35"/><path d="M177.52,534.31A169.5,169.5 0 0 1 179.55,505.72L183.50,506.34A165.5,165.5 0 0 0 181.52,534.25Z" fill="#6b8e23"/><path d="M504.71,594.12A169.5,169.5 0 0 1 491.98,619.81L488.56,617.73A165.5,165.5 0 0 0 500.98,592.66Z" fill="#f1e2cc"/><path d="M179.39,489.15A173.0,173.0 0 0 1 189.01,461.52L192.20,462.95A169.5,169.5 0 0 0 182.78,490.02Z" fill="#fff" fill-opacity="0.35"/><path d="M516.34,567.38A173.0,173.0 0 0 1 507.96,595.40L504.71,594.12A169.5,169.5 0 0 0 512.92,566.66Z" fill="#fff" fill-opacity="0.35"/><path d="M182.78,490.02A169.5,169.5 0 0 1 192.20,462.95L195.86,464.58A165.5,165.5 0 0 0 186.66,491.01Z" fill="#6b8e23"/><path d="M512.92,566.66A169.5,169.5 0 0 1 504.71,594.12L500.98,592.66A165.5,165.5 0 0 0 509.00,565.84Z" fill="#cccccc"/><path d="M196.37,446.92A173.0,173.0 0 0 1 213.05,422.52L215.76,424.73A169.5,169.5 0 0 0 199.42,448.64Z" fill="#fff" fill-opacity="0.35"/><path d="M476.77,646.41A173.0,173.0 0 0 1 455.40,666.83L453.21,664.10A169.5,169.5 0 0 0 474.14,644.09Z" fill="#fff" fill-opacity="0.35"/><path d="M199.42,448.64A169.5,169.5 0 0 1 215.76,424.73L218.86,427.26A165.5,165.5 0 0 0 202.90,450.60Z" fill="#6b8e23"/><path d="M474.14,644.09A169.5,169.5 0 0 1 453.21,664.10L450.70,660.98A165.5,165.5 0 0 0 471.14,641.45Z" fill="#1f77b4"/><path d="M223.78,410.57A173.0,173.0 0 0 1 247.47,390.49L249.49,393.36A169.5,169.5 0 0 0 226.27,413.03Z" fill="#fff" fill-opacity="0.35"/><path d="M518.32,507.92A173.0,173.0 0 0 1 519.86,538.94L516.36,538.80A169.5,169.5 0 0 0 514.85,508.41Z" fill="#fff" fill-opacity="0.35"/><path d="M226.27,413.03A169.5,169.5 0 0 1 249.49,393.36L251.79,396.63A165.5,165.5 0 0 0 229.12,415.83Z" fill="#6b8e23"/><path d="M514.85,508.41A169.5,169.5 0 0 1 516.36,538.80L512.37,538.64A165.5,165.5 0 0 0 510.89,508.97Z" fill="#ff7f0e"/><path d="M259.72,382.63A173.0,173.0 0 0 1 287.83,369.43L289.03,372.72A169.5,169.5 0 0 0 261.48,385.65Z" fill="#fff" fill-opacity="0.35"/><path d="M499.47,450.25A173.0,173.0 0 0 1 511.63,478.83L508.30,479.90A169.5,169.5 0 0 0 496.38,451.90Z" fill="#fff" fill-opacity="0.35"/><path d="M261.48,385.65A169.5,169.5 0 0 1 289.03,372.72L290.40,376.48A165.5,165.5 0 0 0 263.50,389.11Z" fill="#6b8e23"/><path d="M496.38,451.90A169.5,169.5 0 0 1 508.30,479.90L504.49,481.13A165.5,165.5 0 0 0 492.86,453.79Z" fill="#2ca02c"/><path d="M301.70,365.04A173.0,173.0 0 0 1 331.08,359.73L331.40,363.22A169.5,169.5 0 0 0 302.62,368.41Z" fill="#fff" fill-opacity="0.35"/><path d="M511.63,478.83A173.0,173.0 0 0 1 518.32,507.92L514.85,508.41A169.5,169.5 0 0 0 508.30,479.90Z" fill="#fff" fill-opacity="0.35"/><path d="M302.62,368.41A169.5,169.5 0 0 1 331.40,363.22L331.77,367.20A165.5,165.5 0 0 0 303.66,372.27Z" fill="#6b8e23"/><path d="M508.30,479.90A169.5,169.5 0 0 1 514.85,508.41L510.89,508.97A165.5,165.5 0 0 0 504.49,481.13Z" fill="#d62728"/><path d="M351.88,718.44A186.5,186.5 0 0 1 311.89,715.17L314.43,701.91A173.0,173.0 0 0 0 351.53,704.94Z" fill="#b3e2cd"/><path d="M353.90,795.41A263.5,263.5 0 0 1 297.40,790.79L300.13,776.55A249.0,249.0 0 0 0 353.52,780.91Z" fill="#b3e2cd"/><path d="M303.08,713.26A186.5,186.5 0 0 1 265.33,699.67L271.24,687.53A173.0,173.0 0 0 0 306.26,700.14Z" fill="#fdcdac"/><path d="M284.95,788.09A263.5,263.5 0 0 1 231.61,768.89L237.96,755.86A249.0,249.0 0 0 0 288.37,774.00Z" fill="#fdcdac"/><path d="M257.32,695.53A186.5,186.5 0 0 1 224.42,672.56L233.30,662.39A173.0,173.0 0 0 0 263.82,683.69Z" fill="#cbd5e8"/><path d="M220.30,763.04A263.5,263.5 0 0 1 173.82,730.59L183.35,719.67A249.0,249.0 0 0 0 227.27,750.33Z" fill="#cbd5e8"/><path d="M217.77,666.47A186.5,186.5 0 0 1 192.00,635.72L203.22,628.21A173.0,173.0 0 0 0 227.13,656.74Z" fill="#f4cae4"/><path d="M164.42,721.99A263.5,263.5 0 0 1 128.01,678.55L140.06,670.48A249.0,249.0 0 0 0 174.47,711.54Z" fill="#f4cae4"/><path d="M187.17,628.11A186.5,186.5 0 0 1 170.31,591.70L183.10,587.38A173.0,173.0 0 0 0 198.74,621.15Z" fill="#e6f5c9"/><path d="M121.18,667.79A263.5,263.5 0 0 1 97.37,616.35L111.10,611.71A249.0,249.0 0 0 0 133.61,660.32Z" fill="#e6f5c9"/><path d="M167.64,583.09A186.5,186.5 0 0 1 160.86,543.55L174.33,542.71A173.0,173.0 0 0 0 180.62,579.39Z" fill="#fff2ae"/><path d="M93.58,604.19A263.5,263.5 0 0 1 84.01,548.32L98.48,547.42A249.0,249.0 0 0 0 107.53,600.22Z" fill="#fff2ae"/><path d="M160.52,534.54A186.5,186.5 0 0 1 164.29,494.59L177.52,497.30A173.0,173.0 0 0 0 174.02,534.36Z" fill="#f1e2cc"/><path d="M83.52,535.59A263.5,263.5 0 0 1 88.85,479.15L103.06,482.06A249.0,249.0 0 0 0 98.02,535.39Z" fill="#f1e2cc"/><path d="M166.31,485.81A186.5,186.5 0 0 1 180.37,448.23L192.43,454.29A173.0,173.0 0 0 0 179.39,489.15Z" fill="#cccccc"/><path d="M91.71,466.74A263.5,263.5 0 0 1 111.58,413.65L124.53,420.16A249.0,249.0 0 0 0 105.76,470.33Z" fill="#cccccc"/><path d="M184.61,440.28A186.5,186.5 0 0 1 207.99,407.67L218.05,416.67A173.0,173.0 0 0 0 196.37,446.92Z" fill="#1f77b4"/><path d="M117.57,402.41A263.5,263.5 0 0 1 150.60,356.33L161.41,366.00A249.0,249.0 0 0 0 130.20,409.54Z" fill="#1f77b4"/><path d="M214.16,401.09A186.5,186.5 0 0 1 245.23,375.71L252.60,387.03A173.0,173.0 0 0 0 223.78,410.57Z" fill="#ff7f0e"/><path d="M159.32,347.05A263.5,263.5 0 0 1 203.22,311.19L211.13,323.34A249.0,249.0 0 0 0 169.64,357.23Z" fill="#ff7f0e"/><path d="M252.91,370.98A186.5,186.5 0 0 1 289.52,354.58L293.68,367.42A173.0,173.0 0 0 0 259.72,382.63Z" fill="#2ca02c"/><path d="M214.06,304.50A263.5,263.5 0 0 1 265.79,281.33L270.26,295.12A249.0,249.0 0 0 0 221.37,317.01Z" fill="#2ca02c"/><path d="M298.16,352.01A186.5,186.5 0 0 1 337.79,345.73L338.46,359.21A173.0,173.0 0 0 0 301.70,365.04Z" fill="#d62728"/><path d="M278.00,277.69A263.5,263.5 0 0 1 333.99,268.82L334.71,283.30A249.0,249.0 0 0 0 281.80,291.69Z" fill="#d62728"/><path d="M347.42,345.50A186.5,186.5 0 0 1 387.21,349.89L384.30,363.07A173.0,173.0 0 0 0 347.39,359.00Z" fill="#b0c4de"/><path d="M347.61,264.50A267.5,267.5 0 0 1 404.67,270.79L401.54,284.95A253.0,253.0 0 0 0 347.57,279.00Z" fill="#b0c4de"/><path d="M395.90,352.02A186.5,186.5 0 0 1 408.95,356.09L404.46,368.82A173.0,173.0 0 0 0 392.36,365.05Z" fill="#faefe4"/><path d="M417.14,273.86A267.5,267.5 0 0 1 435.85,279.69L431.04,293.36A253.0,253.0 0 0 0 413.33,287.85Z" fill="#faefe4"/><path d="M417.17,359.20A186.5,186.5 0 0 1 423.45,361.89L417.92,374.20A173.0,173.0 0 0 0 412.09,371.71Z" fill="#6495ed"/><path d="M447.64,284.15A267.5,267.5 0 0 1 456.65,288.01L450.71,301.23A253.0,253.0 0 0 0 442.18,297.59Z" fill="#6495ed"/><path d="M431.09,365.53A186.5,186.5 0 0 1 435.99,368.10L429.55,379.96A173.0,173.0 0 0 0 425.00,377.58Z" fill="#cd5c5c"/><path d="M467.61,293.23A267.5,267.5 0 0 1 474.64,296.92L467.72,309.66A253.0,253.0 0 0 0 461.07,306.18Z" fill="#cd5c5c"/><path d="M443.33,372.31A186.5,186.5 0 0 1 452.63,378.30L444.99,389.43A173.0,173.0 0 0 0 436.36,383.87Z" fill="#ba55d3"/><path d="M485.17,302.95A267.5,267.5 0 0 1 498.51,311.55L490.30,323.50A253.0,253.0 0 0 0 477.68,315.36Z" fill="#ba55d3"/><path d="M460.53,384.04A186.5,186.5 0 0 1 464.37,387.06L455.87,397.55A173.0,173.0 0 0 0 452.32,394.75Z" fill="#3cb371"/><path d="M509.84,319.78A267.5,267.5 0 0 1 515.34,324.11L506.22,335.38A253.0,253.0 0 0 0 501.02,331.28Z" fill="#3cb371"/><path d="M471.55,393.19A186.5,186.5 0 0 1 477.95,399.21L468.47,408.82A173.0,173.0 0 0 0 462.54,403.23Z" fill="#7b68ee"/><path d="M525.65,332.90A267.5,267.5 0 0 1 534.83,341.53L524.64,351.86A253.0,253.0 0 0 0 515.96,343.69Z" fill="#7b68ee"/><path d="M484.28,405.76A186.5,186.5 0 0 1 489.45,411.62L479.14,420.34A173.0,173.0 0 0 0 474.34,414.90Z" fill="#48d1cc"/><path d="M543.91,350.94A267.5,267.5 0 0 1 551.32,359.34L540.24,368.70A253.0,253.0 0 0 0 533.23,360.75Z" fill="#48d1cc"/><path d="M495.36,418.98A186.5,186.5 0 0 1 498.26,422.91L487.31,430.80A173.0,173.0 0 0 0 484.62,427.16Z" fill="#008b8b"/><path d="M559.79,369.90A267.5,267.5 0 0 1 563.96,375.52L552.20,384.01A253.0,253.0 0 0 0 548.25,378.68Z" fill="#008b8b"/><path d="M503.59,430.70A186.5,186.5 0 0 1 506.19,434.83L494.66,441.87A173.0,173.0 0 0 0 492.25,438.03Z" fill="#f4a460"/><path d="M571.60,386.70A267.5,267.5 0 0 1 575.32,392.63L562.95,400.18A253.0,253.0 0 0 0 559.42,394.58Z" fill="#f4a460"/><path d="M511.36,443.87A186.5,186.5 0 0 1 360.98,717.98L359.97,704.51A173.0,173.0 0 0 0 499.47,450.25Z" fill="#6b8e23"/><path d="M582.75,405.59A267.5,267.5 0 0 1 367.06,798.75L365.97,784.29A253.0,253.0 0 0 0 569.97,412.44Z" fill="#6b8e23"/><path d="M353.40,776.42A244.5,244.5 0 0 1 316.36,774.57L318.30,759.19A229.0,229.0 0 0 0 352.99,760.92Z" fill="#6b8e23"/><path d="M316.36,774.57A244.5,244.5 0 0 1 308.22,773.40L310.68,758.10A229.0,229.0 0 0 0 318.30,759.19Z" fill="#b0c4de"/><path d="M308.22,773.40A244.5,244.5 0 0 1 306.88,773.19L309.42,757.90A229.0,229.0 0 0 0 310.68,758.10Z" fill="#ba55d3"/><path d="M306.88,773.19A244.5,244.5 0 0 1 305.68,772.98L308.30,757.71A229.0,229.0 0 0 0 309.42,757.90Z" fill="#faefe4"/><path d="M305.68,772.98A244.5,244.5 0 0 1 304.49,772.78L307.18,757.51A229.0,229.0 0 0 0 308.30,757.71Z" fill="#7b68ee"/><path d="M304.49,772.78A244.5,244.5 0 0 1 303.44,772.59L306.20,757.34A229.0,229.0 0 0 0 307.18,757.51Z" fill="#48d1cc"/><path d="M303.44,772.59A244.5,244.5 0 0 1 302.77,772.47L305.57,757.22A229.0,229.0 0 0 0 306.20,757.34Z" fill="#3cb371"/><path d="M302.77,772.47A244.5,244.5 0 0 1 302.14,772.35L304.98,757.11A229.0,229.0 0 0 0 305.57,757.22Z" fill="#6495ed"/><path d="M302.14,772.35A244.5,244.5 0 0 1 301.65,772.26L304.52,757.03A229.0,229.0 0 0 0 304.98,757.11Z" fill="#f4a460"/><path d="M301.65,772.26A244.5,244.5 0 0 1 301.25,772.18L304.15,756.96A229.0,229.0 0 0 0 304.52,757.03Z" fill="#cd5c5c"/><path d="M301.25,772.18A244.5,244.5 0 0 1 300.98,772.13L303.89,756.91A229.0,229.0 0 0 0 304.15,756.96Z" fill="#008b8b"/><path d="M289.42,769.62A244.5,244.5 0 0 1 255.33,758.66L261.14,744.30A229.0,229.0 0 0 0 293.07,754.56Z" fill="#6b8e23"/><path d="M255.33,758.66A244.5,244.5 0 0 1 245.87,754.60L252.28,740.49A229.0,229.0 0 0 0 261.14,744.30Z" fill="#b0c4de"/><path d="M245.87,754.60A244.5,244.5 0 0 1 244.66,754.05L251.15,739.97A229.0,229.0 0 0 0 252.28,740.49Z" fill="#48d1cc"/><path d="M244.66,754.05A244.5,244.5 0 0 1 243.80,753.65L250.35,739.60A229.0,229.0 0 0 0 251.15,739.97Z" fill="#faefe4"/><path d="M243.80,753.65A244.5,244.5 0 0 1 242.95,753.26L249.55,739.23A229.0,229.0 0 0 0 250.35,739.60Z" fill="#ba55d3"/><path d="M242.95,753.26A244.5,244.5 0 0 1 242.14,752.87L248.79,738.87A229.0,229.0 0 0 0 249.55,739.23Z" fill="#6495ed"/><path d="M242.14,752.87A244.5,244.5 0 0 1 241.41,752.52L248.10,738.54A229.0,229.0 0 0 0 248.79,738.87Z" fill="#f4a460"/><path d="M241.41,752.52A244.5,244.5 0 0 1 240.87,752.27L247.60,738.30A229.0,229.0 0 0 0 248.10,738.54Z" fill="#7b68ee"/><path d="M240.87,752.27A244.5,244.5 0 0 1 240.54,752.11L247.29,738.15A229.0,229.0 0 0 0 247.60,738.30Z" fill="#3cb371"/><path d="M240.54,752.11A244.5,244.5 0 0 1 240.22,751.95L246.99,738.01A229.0,229.0 0 0 0 247.29,738.15Z" fill="#cd5c5c"/><path d="M240.22,751.95A244.5,244.5 0 0 1 239.93,751.81L246.72,737.88A229.0,229.0 0 0 0 246.99,738.01Z" fill="#008b8b"/><path d="M229.44,746.38A244.5,244.5 0 0 1 200.40,727.68L209.70,715.27A229.0,229.0 0 0 0 236.89,732.79Z" fill="#6b8e23"/><path d="M200.40,727.68A244.5,244.5 0 0 1 191.86,720.98L201.70,709.00A229.0,229.0 0 0 0 209.70,715.27Z" fill="#b0c4de"/><path d="M191.86,720.98A244.5,244.5 0 0 1 190.73,720.04L200.63,708.12A229.0,229.0 0 0 0 201.70,709.00Z" fill="#faefe4"/><path d="M190.73,720.04A244.5,244.5 0 0 1 189.84,719.30L199.80,707.42A229.0,229.0 0 0 0 200.63,708.12Z" fill="#48d1cc"/><path d="M189.84,719.30A244.5,244.5 0 0 1 189.11,718.69L199.12,706.85A229.0,229.0 0 0 0 199.80,707.42Z" fill="#7b68ee"/><path d="M189.11,718.69A244.5,244.5 0 0 1 188.45,718.13L198.51,706.33A229.0,229.0 0 0 0 199.12,706.85Z" fill="#f4a460"/><path d="M188.45,718.13A244.5,244.5 0 0 1 187.85,717.61L197.94,705.84A229.0,229.0 0 0 0 198.51,706.33Z" fill="#ba55d3"/><path d="M187.85,717.61A244.5,244.5 0 0 1 187.26,717.10L197.39,705.37A229.0,229.0 0 0 0 197.94,705.84Z" fill="#3cb371"/><path d="M187.26,717.10A244.5,244.5 0 0 1 186.88,716.77L197.03,705.06A229.0,229.0 0 0 0 197.39,705.37Z" fill="#cd5c5c"/><path d="M186.88,716.77A244.5,244.5 0 0 1 186.57,716.51L196.74,704.81A229.0,229.0 0 0 0 197.03,705.06Z" fill="#008b8b"/><path d="M186.57,716.51A244.5,244.5 0 0 1 186.30,716.27L196.49,704.59A229.0,229.0 0 0 0 196.74,704.81Z" fill="#6495ed"/><path d="M177.59,708.29A244.5,244.5 0 0 1 150.81,677.91L163.25,668.66A229.0,229.0 0 0 0 188.33,697.12Z" fill="#6b8e23"/><path d="M150.81,677.91A244.5,244.5 0 0 1 148.90,675.30L161.45,666.22A229.0,229.0 0 0 0 163.25,668.66Z" fill="#b0c4de"/><path d="M148.90,675.30A244.5,244.5 0 0 1 147.92,673.95L160.54,664.95A229.0,229.0 0 0 0 161.45,666.22Z" fill="#ba55d3"/><path d="M147.92,673.95A244.5,244.5 0 0 1 147.16,672.87L159.83,663.94A229.0,229.0 0 0 0 160.54,664.95Z" fill="#cd5c5c"/><path d="M147.16,672.87A244.5,244.5 0 0 1 146.43,671.83L159.14,662.96A229.0,229.0 0 0 0 159.83,663.94Z" fill="#faefe4"/><path d="M146.43,671.83A244.5,244.5 0 0 1 145.71,670.79L158.47,662.00A229.0,229.0 0 0 0 159.14,662.96Z" fill="#7b68ee"/><path d="M145.71,670.79A244.5,244.5 0 0 1 145.15,669.98L157.95,661.23A229.0,229.0 0 0 0 158.47,662.00Z" fill="#008b8b"/><path d="M145.15,669.98A244.5,244.5 0 0 1 144.64,669.23L157.47,660.53A229.0,229.0 0 0 0 157.95,661.23Z" fill="#48d1cc"/><path d="M144.64,669.23A244.5,244.5 0 0 1 144.28,668.70L157.13,660.03A229.0,229.0 0 0 0 157.47,660.53Z" fill="#6495ed"/><path d="M144.28,668.70A244.5,244.5 0 0 1 144.02,668.30L156.89,659.66A229.0,229.0 0 0 0 157.13,660.03Z" fill="#f4a460"/><path d="M144.02,668.30A244.5,244.5 0 0 1 143.80,667.98L156.68,659.36A229.0,229.0 0 0 0 156.89,659.66Z" fill="#3cb371"/><path d="M137.47,658.00A244.5,244.5 0 0 1 118.47,618.90L132.95,613.39A229.0,229.0 0 0 0 150.75,650.01Z" fill="#6b8e23"/><path d="M118.47,618.90A244.5,244.5 0 0 1 117.05,615.07L131.62,609.81A229.0,229.0 0 0 0 132.95,613.39Z" fill="#b0c4de"/><path d="M117.05,615.07A244.5,244.5 0 0 1 116.66,614.01L131.26,608.81A229.0,229.0 0 0 0 131.62,609.81Z" fill="#faefe4"/><path d="M116.66,614.01A244.5,244.5 0 0 1 116.39,613.24L131.01,608.09A229.0,229.0 0 0 0 131.26,608.81Z" fill="#ba55d3"/><path d="M116.39,613.24A244.5,244.5 0 0 1 116.16,612.57L130.79,607.46A229.0,229.0 0 0 0 131.01,608.09Z" fill="#7b68ee"/><path d="M116.16,612.57A244.5,244.5 0 0 1 115.95,611.97L130.60,606.90A229.0,229.0 0 0 0 130.79,607.46Z" fill="#6495ed"/><path d="M115.95,611.97A244.5,244.5 0 0 1 115.75,611.40L130.41,606.36A229.0,229.0 0 0 0 130.60,606.90Z" fill="#48d1cc"/><path d="M115.75,611.40A244.5,244.5 0 0 1 115.63,611.04L130.30,606.03A229.0,229.0 0 0 0 130.41,606.36Z" fill="#3cb371"/><path d="M115.63,611.04A244.5,244.5 0 0 1 115.52,610.72L130.19,605.73A229.0,229.0 0 0 0 130.30,606.03Z" fill="#cd5c5c"/><path d="M115.52,610.72A244.5,244.5 0 0 1 115.43,610.45L130.11,605.48A229.0,229.0 0 0 0 130.19,605.73Z" fill="#f4a460"/><path d="M115.43,610.45A244.5,244.5 0 0 1 115.37,610.27L130.05,605.31A229.0,229.0 0 0 0 130.11,605.48Z" fill="#008b8b"/><path d="M111.85,598.98A244.5,244.5 0 0 1 104.12,560.10L119.52,558.32A229.0,229.0 0 0 0 126.76,594.74Z" fill="#6b8e23"/><path d="M104.12,560.10A244.5,244.5 0 0 1 103.56,554.74L118.99,553.30A229.0,229.0 0 0 0 119.52,558.32Z" fill="#b0c4de"/><path d="M103.56,554.74A244.5,244.5 0 0 1 103.44,553.44L118.88,552.08A229.0,229.0 0 0 0 118.99,553.30Z" fill="#faefe4"/><path d="M103.44,553.44A244.5,244.5 0 0 1 103.35,552.33L118.79,551.04A229.0,229.0 0 0 0 118.88,552.08Z" fill="#48d1cc"/><path d="M103.35,552.33A244.5,244.5 0 0 1 103.26,551.22L118.71,550.01A229.0,229.0 0 0 0 118.79,551.04Z" fill="#6495ed"/><path d="M103.26,551.22A244.5,244.5 0 0 1 103.19,550.36L118.65,549.19A229.0,229.0 0 0 0 118.71,550.01Z" fill="#ba55d3"/><path d="M103.19,550.36A244.5,244.5 0 0 1 103.13,549.55L118.59,548.44A229.0,229.0 0 0 0 118.65,549.19Z" fill="#7b68ee"/><path d="M103.13,549.55A244.5,244.5 0 0 1 103.07,548.76L118.54,547.69A229.0,229.0 0 0 0 118.59,548.44Z" fill="#cd5c5c"/><path d="M103.07,548.76A244.5,244.5 0 0 1 103.03,548.04L118.49,547.02A229.0,229.0 0 0 0 118.54,547.69Z" fill="#3cb371"/><path d="M103.03,548.04A244.5,244.5 0 0 1 103.00,547.56L118.46,546.57A229.0,229.0 0 0 0 118.49,547.02Z" fill="#008b8b"/><path d="M103.00,547.56A244.5,244.5 0 0 1 102.97,547.14L118.44,546.18A229.0,229.0 0 0 0 118.46,546.57Z" fill="#f4a460"/><path d="M102.52,535.33A244.5,244.5 0 0 1 105.46,494.09L120.77,496.49A229.0,229.0 0 0 0 118.02,535.12Z" fill="#6b8e23"/><path d="M105.46,494.09A244.5,244.5 0 0 1 106.00,490.79L121.28,493.40A229.0,229.0 0 0 0 120.77,496.49Z" fill="#b0c4de"/><path d="M106.00,490.79A244.5,244.5 0 0 1 106.30,489.06L121.56,491.78A229.0,229.0 0 0 0 121.28,493.40Z" fill="#ba55d3"/><path d="M106.30,489.06A244.5,244.5 0 0 1 106.54,487.71L121.79,490.52A229.0,229.0 0 0 0 121.56,491.78Z" fill="#7b68ee"/><path d="M106.54,487.71A244.5,244.5 0 0 1 106.74,486.66L121.97,489.54A229.0,229.0 0 0 0 121.79,490.52Z" fill="#faefe4"/><path d="M106.74,486.66A244.5,244.5 0 0 1 106.92,485.72L122.14,488.65A229.0,229.0 0 0 0 121.97,489.54Z" fill="#cd5c5c"/><path d="M106.92,485.72A244.5,244.5 0 0 1 107.09,484.84L122.30,487.83A229.0,229.0 0 0 0 122.14,488.65Z" fill="#6495ed"/><path d="M107.09,484.84A244.5,244.5 0 0 1 107.21,484.23L122.41,487.25A229.0,229.0 0 0 0 122.30,487.83Z" fill="#008b8b"/><path d="M107.21,484.23A244.5,244.5 0 0 1 107.31,483.76L122.50,486.82A229.0,229.0 0 0 0 122.41,487.25Z" fill="#f4a460"/><path d="M107.31,483.76A244.5,244.5 0 0 1 107.40,483.32L122.59,486.40A229.0,229.0 0 0 0 122.50,486.82Z" fill="#48d1cc"/><path d="M107.40,483.32A244.5,244.5 0 0 1 107.47,482.96L122.65,486.07A229.0,229.0 0 0 0 122.59,486.40Z" fill="#3cb371"/><path d="M110.12,471.44A244.5,244.5 0 0 1 123.71,432.40L137.86,438.71A229.0,229.0 0 0 0 125.13,475.28Z" fill="#6b8e23"/><path d="M123.71,432.40A244.5,244.5 0 0 1 124.60,430.41L138.70,436.85A229.0,229.0 0 0 0 137.86,438.71Z" fill="#b0c4de"/><path d="M124.60,430.41A244.5,244.5 0 0 1 125.28,428.94L139.34,435.47A229.0,229.0 0 0 0 138.70,436.85Z" fill="#faefe4"/><path d="M125.28,428.94A244.5,244.5 0 0 1 125.95,427.51L139.96,434.14A229.0,229.0 0 0 0 139.34,435.47Z" fill="#ba55d3"/><path d="M125.95,427.51A244.5,244.5 0 0 1 126.58,426.20L140.55,432.91A229.0,229.0 0 0 0 139.96,434.14Z" fill="#7b68ee"/><path d="M126.58,426.20A244.5,244.5 0 0 1 127.00,425.31L140.95,432.08A229.0,229.0 0 0 0 140.55,432.91Z" fill="#48d1cc"/><path d="M127.00,425.31A244.5,244.5 0 0 1 127.37,424.56L141.30,431.37A229.0,229.0 0 0 0 140.95,432.08Z" fill="#008b8b"/><path d="M127.37,424.56A244.5,244.5 0 0 1 127.68,423.93L141.58,430.78A229.0,229.0 0 0 0 141.30,431.37Z" fill="#6495ed"/><path d="M127.68,423.93A244.5,244.5 0 0 1 127.98,423.32L141.87,430.21A229.0,229.0 0 0 0 141.58,430.78Z" fill="#cd5c5c"/><path d="M127.98,423.32A244.5,244.5 0 0 1 128.28,422.72L142.15,429.64A229.0,229.0 0 0 0 141.87,430.21Z" fill="#f4a460"/><path d="M128.28,422.72A244.5,244.5 0 0 1 128.55,422.18L142.40,429.14A229.0,229.0 0 0 0 142.15,429.64Z" fill="#3cb371"/><path d="M134.11,411.75A244.5,244.5 0 0 1 157.69,377.27L169.69,387.08A229.0,229.0 0 0 0 147.61,419.37Z" fill="#6b8e23"/><path d="M157.69,377.27A244.5,244.5 0 0 1 158.99,375.69L170.91,385.60A229.0,229.0 0 0 0 169.69,387.08Z" fill="#b0c4de"/><path d="M158.99,375.69A244.5,244.5 0 0 1 160.31,374.12L172.14,384.13A229.0,229.0 0 0 0 170.91,385.60Z" fill="#faefe4"/><path d="M160.31,374.12A244.5,244.5 0 0 1 161.18,373.10L172.96,383.17A229.0,229.0 0 0 0 172.14,384.13Z" fill="#6495ed"/><path d="M161.18,373.10A244.5,244.5 0 0 1 161.82,372.35L173.56,382.47A229.0,229.0 0 0 0 172.96,383.17Z" fill="#7b68ee"/><path d="M161.82,372.35A244.5,244.5 0 0 1 162.43,371.64L174.13,381.81A229.0,229.0 0 0 0 173.56,382.47Z" fill="#ba55d3"/><path d="M162.43,371.64A244.5,244.5 0 0 1 163.03,370.96L174.69,381.16A229.0,229.0 0 0 0 174.13,381.81Z" fill="#cd5c5c"/><path d="M163.03,370.96A244.5,244.5 0 0 1 163.59,370.32L175.22,380.57A229.0,229.0 0 0 0 174.69,381.16Z" fill="#008b8b"/><path d="M163.59,370.32A244.5,244.5 0 0 1 164.13,369.71L175.72,380.00A229.0,229.0 0 0 0 175.22,380.57Z" fill="#f4a460"/><path d="M164.13,369.71A244.5,244.5 0 0 1 164.57,369.22L176.13,379.54A229.0,229.0 0 0 0 175.72,380.00Z" fill="#48d1cc"/><path d="M164.57,369.22A244.5,244.5 0 0 1 164.76,369.00L176.31,379.33A229.0,229.0 0 0 0 176.13,379.54Z" fill="#3cb371"/><path d="M172.85,360.38A244.5,244.5 0 0 1 206.34,332.01L215.26,344.69A229.0,229.0 0 0 0 183.89,371.26Z" fill="#6b8e23"/><path d="M206.34,332.01A244.5,244.5 0 0 1 208.34,330.62L217.13,343.39A229.0,229.0 0 0 0 215.26,344.69Z" fill="#faefe4"/><path d="M208.34,330.62A244.5,244.5 0 0 1 209.46,329.86L218.18,342.67A229.0,229.0 0 0 0 217.13,343.39Z" fill="#b0c4de"/><path d="M209.46,329.86A244.5,244.5 0 0 1 210.43,329.20L219.08,342.06A229.0,229.0 0 0 0 218.18,342.67Z" fill="#ba55d3"/><path d="M210.43,329.20A244.5,244.5 0 0 1 211.22,328.67L219.83,341.56A229.0,229.0 0 0 0 219.08,342.06Z" fill="#7b68ee"/><path d="M211.22,328.67A244.5,244.5 0 0 1 211.80,328.28L220.37,341.19A229.0,229.0 0 0 0 219.83,341.56Z" fill="#008b8b"/><path d="M211.80,328.28A244.5,244.5 0 0 1 212.32,327.94L220.85,340.88A229.0,229.0 0 0 0 220.37,341.19Z" fill="#3cb371"/><path d="M212.32,327.94A244.5,244.5 0 0 1 212.71,327.68L221.22,340.63A229.0,229.0 0 0 0 220.85,340.88Z" fill="#48d1cc"/><path d="M212.71,327.68A244.5,244.5 0 0 1 213.06,327.45L221.55,340.42A229.0,229.0 0 0 0 221.22,340.63Z" fill="#f4a460"/><path d="M213.06,327.45A244.5,244.5 0 0 1 213.33,327.28L221.80,340.25A229.0,229.0 0 0 0 221.55,340.42Z" fill="#cd5c5c"/><path d="M213.33,327.28A244.5,244.5 0 0 1 213.59,327.11L222.04,340.10A229.0,229.0 0 0 0 221.80,340.25Z" fill="#6495ed"/><path d="M223.64,320.90A244.5,244.5 0 0 1 263.38,302.25L268.68,316.81A229.0,229.0 0 0 0 231.46,334.28Z" fill="#6b8e23"/><path d="M263.38,302.25A244.5,244.5 0 0 1 265.23,301.58L270.42,316.19A229.0,229.0 0 0 0 268.68,316.81Z" fill="#faefe4"/><path d="M265.23,301.58A244.5,244.5 0 0 1 266.72,301.05L271.81,315.70A229.0,229.0 0 0 0 270.42,316.19Z" fill="#b0c4de"/><path d="M266.72,301.05A244.5,244.5 0 0 1 267.94,300.63L272.95,315.30A229.0,229.0 0 0 0 271.81,315.70Z" fill="#ba55d3"/><path d="M267.94,300.63A244.5,244.5 0 0 1 269.01,300.27L273.96,314.96A229.0,229.0 0 0 0 272.95,315.30Z" fill="#6495ed"/><path d="M269.01,300.27A244.5,244.5 0 0 1 269.76,300.02L274.66,314.73A229.0,229.0 0 0 0 273.96,314.96Z" fill="#3cb371"/><path d="M269.76,300.02A244.5,244.5 0 0 1 270.22,299.87L275.08,314.59A229.0,229.0 0 0 0 274.66,314.73Z" fill="#48d1cc"/><path d="M270.22,299.87A244.5,244.5 0 0 1 270.64,299.73L275.48,314.46A229.0,229.0 0 0 0 275.08,314.59Z" fill="#7b68ee"/><path d="M270.64,299.73A244.5,244.5 0 0 1 271.03,299.60L275.85,314.33A229.0,229.0 0 0 0 275.48,314.46Z" fill="#008b8b"/><path d="M271.03,299.60A244.5,244.5 0 0 1 271.39,299.49L276.18,314.23A229.0,229.0 0 0 0 275.85,314.33Z" fill="#cd5c5c"/><path d="M271.39,299.49A244.5,244.5 0 0 1 271.65,299.40L276.43,314.15A229.0,229.0 0 0 0 276.18,314.23Z" fill="#f4a460"/><path d="M282.98,296.03A244.5,244.5 0 0 1 324.50,288.54L325.93,303.97A229.0,229.0 0 0 0 287.04,310.99Z" fill="#6b8e23"/><path d="M324.50,288.54A244.5,244.5 0 0 1 326.45,288.37L327.75,303.81A229.0,229.0 0 0 0 325.93,303.97Z" fill="#faefe4"/><path d="M326.45,288.37A244.5,244.5 0 0 1 328.20,288.22L329.39,303.68A229.0,229.0 0 0 0 327.75,303.81Z" fill="#ba55d3"/><path d="M328.20,288.22A244.5,244.5 0 0 1 329.73,288.11L330.82,303.57A229.0,229.0 0 0 0 329.39,303.68Z" fill="#b0c4de"/><path d="M329.73,288.11A244.5,244.5 0 0 1 331.03,288.02L332.04,303.49A229.0,229.0 0 0 0 330.82,303.57Z" fill="#48d1cc"/><path d="M331.03,288.02A244.5,244.5 0 0 1 332.15,287.95L333.09,303.42A229.0,229.0 0 0 0 332.04,303.49Z" fill="#7b68ee"/><path d="M332.15,287.95A244.5,244.5 0 0 1 332.78,287.91L333.68,303.39A229.0,229.0 0 0 0 333.09,303.42Z" fill="#3cb371"/><path d="M332.78,287.91A244.5,244.5 0 0 1 333.37,287.88L334.23,303.36A229.0,229.0 0 0 0 333.68,303.39Z" fill="#f4a460"/><path d="M333.37,287.88A244.5,244.5 0 0 1 333.94,287.85L334.77,303.33A229.0,229.0 0 0 0 334.23,303.36Z" fill="#6495ed"/><path d="M333.94,287.85A244.5,244.5 0 0 1 334.44,287.82L335.23,303.30A229.0,229.0 0 0 0 334.77,303.33Z" fill="#cd5c5c"/><path d="M334.44,287.82A244.5,244.5 0 0 1 334.93,287.80L335.69,303.28A229.0,229.0 0 0 0 335.23,303.30Z" fill="#008b8b"/><path d="M347.55,287.50A244.5,244.5 0 0 1 358.10,287.75L357.39,303.24A229.0,229.0 0 0 0 347.52,303.00Z" fill="#cbd5e8"/><path d="M358.10,287.75A244.5,244.5 0 0 1 368.08,288.41L366.74,303.85A229.0,229.0 0 0 0 357.39,303.24Z" fill="#fdcdac"/><path d="M368.08,288.41A244.5,244.5 0 0 1 376.02,289.23L374.18,304.62A229.0,229.0 0 0 0 366.74,303.85Z" fill="#b3e2cd"/><path d="M376.02,289.23A244.5,244.5 0 0 1 381.21,289.91L379.05,305.25A229.0,229.0 0 0 0 374.18,304.62Z" fill="#fff2ae"/><path d="M381.21,289.91A244.5,244.5 0 0 1 385.14,290.49L382.72,305.80A229.0,229.0 0 0 0 379.05,305.25Z" fill="#e6f5c9"/><path d="M385.14,290.49A244.5,244.5 0 0 1 388.34,291.02L385.72,306.30A229.0,229.0 0 0 0 382.72,305.80Z" fill="#f1e2cc"/><path d="M388.34,291.02A244.5,244.5 0 0 1 391.44,291.57L388.62,306.81A229.0,229.0 0 0 0 385.72,306.30Z" fill="#f4cae4"/><path d="M391.44,291.57A244.5,244.5 0 0 1 393.52,291.97L390.57,307.18A229.0,229.0 0 0 0 388.62,306.81Z" fill="#cccccc"/><path d="M393.52,291.97A244.5,244.5 0 0 1 395.47,292.35L392.40,307.55A229.0,229.0 0 0 0 390.57,307.18Z" fill="#1f77b4"/><path d="M395.47,292.35A244.5,244.5 0 0 1 396.97,292.66L393.81,307.83A229.0,229.0 0 0 0 392.40,307.55Z" fill="#2ca02c"/><path d="M396.97,292.66A244.5,244.5 0 0 1 398.43,292.97L395.17,308.12A229.0,229.0 0 0 0 393.81,307.83Z" fill="#d62728"/><path d="M398.43,292.97A244.5,244.5 0 0 1 399.71,293.25L396.37,308.39A229.0,229.0 0 0 0 395.17,308.12Z" fill="#ff7f0e"/><path d="M411.11,296.05A244.5,244.5 0 0 1 413.39,296.69L409.18,311.60A229.0,229.0 0 0 0 407.04,311.01Z" fill="#ff7f0e"/><path d="M413.39,296.69A244.5,244.5 0 0 1 415.30,297.23L410.97,312.12A229.0,229.0 0 0 0 409.18,311.60Z" fill="#1f77b4"/><path d="M415.30,297.23A244.5,244.5 0 0 1 417.14,297.78L412.69,312.62A229.0,229.0 0 0 0 410.97,312.12Z" fill="#2ca02c"/><path d="M417.14,297.78A244.5,244.5 0 0 1 418.95,298.33L414.39,313.14A229.0,229.0 0 0 0 412.69,312.62Z" fill="#d62728"/><path d="M418.95,298.33A244.5,244.5 0 0 1 420.46,298.80L415.81,313.58A229.0,229.0 0 0 0 414.39,313.14Z" fill="#cccccc"/><path d="M420.46,298.80A244.5,244.5 0 0 1 421.83,299.23L417.08,313.99A229.0,229.0 0 0 0 415.81,313.58Z" fill="#cbd5e8"/><path d="M421.83,299.23A244.5,244.5 0 0 1 423.03,299.62L418.21,314.35A229.0,229.0 0 0 0 417.08,313.99Z" fill="#fff2ae"/><path d="M423.03,299.62A244.5,244.5 0 0 1 424.20,300.01L419.30,314.71A229.0,229.0 0 0 0 418.21,314.35Z" fill="#f4cae4"/><path d="M424.20,300.01A244.5,244.5 0 0 1 425.32,300.38L420.36,315.07A229.0,229.0 0 0 0 419.30,314.71Z" fill="#b3e2cd"/><path d="M425.32,300.38A244.5,244.5 0 0 1 426.37,300.74L421.33,315.40A229.0,229.0 0 0 0 420.36,315.07Z" fill="#e6f5c9"/><path d="M426.37,300.74A244.5,244.5 0 0 1 427.35,301.08L422.26,315.72A229.0,229.0 0 0 0 421.33,315.40Z" fill="#f1e2cc"/><path d="M427.35,301.08A244.5,244.5 0 0 1 428.21,301.38L423.06,316.00A229.0,229.0 0 0 0 422.26,315.72Z" fill="#fdcdac"/><path d="M438.99,305.46A244.5,244.5 0 0 1 440.19,305.96L434.29,320.29A229.0,229.0 0 0 0 433.16,319.82Z" fill="#1f77b4"/><path d="M440.19,305.96A244.5,244.5 0 0 1 441.21,306.38L435.24,320.68A229.0,229.0 0 0 0 434.29,320.29Z" fill="#2ca02c"/><path d="M441.21,306.38A244.5,244.5 0 0 1 442.20,306.80L436.17,321.07A229.0,229.0 0 0 0 435.24,320.68Z" fill="#fff2ae"/><path d="M442.20,306.80A244.5,244.5 0 0 1 443.01,307.14L436.92,321.39A229.0,229.0 0 0 0 436.17,321.07Z" fill="#fdcdac"/><path d="M443.01,307.14A244.5,244.5 0 0 1 443.81,307.48L437.67,321.72A229.0,229.0 0 0 0 436.92,321.39Z" fill="#f1e2cc"/><path d="M443.81,307.48A244.5,244.5 0 0 1 444.43,307.75L438.26,321.97A229.0,229.0 0 0 0 437.67,321.72Z" fill="#cccccc"/><path d="M444.43,307.75A244.5,244.5 0 0 1 445.00,308.00L438.79,322.20A229.0,229.0 0 0 0 438.26,321.97Z" fill="#b3e2cd"/><path d="M445.00,308.00A244.5,244.5 0 0 1 445.57,308.25L439.32,322.43A229.0,229.0 0 0 0 438.79,322.20Z" fill="#f4cae4"/><path d="M445.57,308.25A244.5,244.5 0 0 1 446.13,308.50L439.85,322.67A229.0,229.0 0 0 0 439.32,322.43Z" fill="#e6f5c9"/><path d="M446.13,308.50A244.5,244.5 0 0 1 446.64,308.72L440.32,322.88A229.0,229.0 0 0 0 439.85,322.67Z" fill="#d62728"/><path d="M446.64,308.72A244.5,244.5 0 0 1 446.95,308.86L440.62,323.01A229.0,229.0 0 0 0 440.32,322.88Z" fill="#cbd5e8"/><path d="M446.95,308.86A244.5,244.5 0 0 1 447.23,308.99L440.87,323.12A229.0,229.0 0 0 0 440.62,323.01Z" fill="#ff7f0e"/><path d="M457.24,313.76A244.5,244.5 0 0 1 458.39,314.35L451.32,328.14A229.0,229.0 0 0 0 450.25,327.60Z" fill="#f4cae4"/><path d="M458.39,314.35A244.5,244.5 0 0 1 459.22,314.77L452.10,328.54A229.0,229.0 0 0 0 451.32,328.14Z" fill="#f1e2cc"/><path d="M459.22,314.77A244.5,244.5 0 0 1 460.00,315.18L452.84,328.92A229.0,229.0 0 0 0 452.10,328.54Z" fill="#1f77b4"/><path d="M460.00,315.18A244.5,244.5 0 0 1 460.69,315.54L453.48,329.26A229.0,229.0 0 0 0 452.84,328.92Z" fill="#fff2ae"/><path d="M460.69,315.54A244.5,244.5 0 0 1 461.27,315.85L454.03,329.55A229.0,229.0 0 0 0 453.48,329.26Z" fill="#cccccc"/><path d="M461.27,315.85A244.5,244.5 0 0 1 461.70,316.08L454.43,329.76A229.0,229.0 0 0 0 454.03,329.55Z" fill="#cbd5e8"/><path d="M461.70,316.08A244.5,244.5 0 0 1 462.13,316.30L454.83,329.98A229.0,229.0 0 0 0 454.43,329.76Z" fill="#d62728"/><path d="M462.13,316.30A244.5,244.5 0 0 1 462.48,316.49L455.16,330.15A229.0,229.0 0 0 0 454.83,329.98Z" fill="#b3e2cd"/><path d="M462.48,316.49A244.5,244.5 0 0 1 462.80,316.66L455.46,330.31A229.0,229.0 0 0 0 455.16,330.15Z" fill="#2ca02c"/><path d="M462.80,316.66A244.5,244.5 0 0 1 463.10,316.82L455.74,330.46A229.0,229.0 0 0 0 455.46,330.31Z" fill="#fdcdac"/><path d="M463.10,316.82A244.5,244.5 0 0 1 463.39,316.98L456.01,330.61A229.0,229.0 0 0 0 455.74,330.46Z" fill="#e6f5c9"/><path d="M463.39,316.98A244.5,244.5 0 0 1 463.67,317.13L456.27,330.75A229.0,229.0 0 0 0 456.01,330.61Z" fill="#ff7f0e"/><path d="M473.29,322.64A244.5,244.5 0 0 1 474.75,323.53L466.65,336.75A229.0,229.0 0 0 0 465.29,335.91Z" fill="#f1e2cc"/><path d="M474.75,323.53A244.5,244.5 0 0 1 476.21,324.43L468.01,337.59A229.0,229.0 0 0 0 466.65,336.75Z" fill="#d62728"/><path d="M476.21,324.43A244.5,244.5 0 0 1 477.58,325.29L469.30,338.39A229.0,229.0 0 0 0 468.01,337.59Z" fill="#f4cae4"/><path d="M477.58,325.29A244.5,244.5 0 0 1 478.87,326.11L470.51,339.16A229.0,229.0 0 0 0 469.30,338.39Z" fill="#cccccc"/><path d="M478.87,326.11A244.5,244.5 0 0 1 479.97,326.82L471.54,339.83A229.0,229.0 0 0 0 470.51,339.16Z" fill="#b3e2cd"/><path d="M479.97,326.82A244.5,244.5 0 0 1 481.02,327.51L472.53,340.47A229.0,229.0 0 0 0 471.54,339.83Z" fill="#2ca02c"/><path d="M481.02,327.51A244.5,244.5 0 0 1 481.97,328.13L473.42,341.06A229.0,229.0 0 0 0 472.53,340.47Z" fill="#ff7f0e"/><path d="M481.97,328.13A244.5,244.5 0 0 1 482.73,328.64L474.13,341.53A229.0,229.0 0 0 0 473.42,341.06Z" fill="#1f77b4"/><path d="M482.73,328.64A244.5,244.5 0 0 1 483.49,329.14L474.84,342.00A229.0,229.0 0 0 0 474.13,341.53Z" fill="#fdcdac"/><path d="M483.49,329.14A244.5,244.5 0 0 1 484.19,329.62L475.49,342.45A229.0,229.0 0 0 0 474.84,342.00Z" fill="#fff2ae"/><path d="M484.19,329.62A244.5,244.5 0 0 1 484.85,330.06L476.11,342.86A229.0,229.0 0 0 0 475.49,342.45Z" fill="#e6f5c9"/><path d="M484.85,330.06A244.5,244.5 0 0 1 485.49,330.50L476.71,343.28A229.0,229.0 0 0 0 476.11,342.86Z" fill="#cbd5e8"/><path d="M495.84,338.03A244.5,244.5 0 0 1 496.45,338.49L486.98,350.76A229.0,229.0 0 0 0 486.41,350.32Z" fill="#2ca02c"/><path d="M496.45,338.49A244.5,244.5 0 0 1 497.05,338.95L487.53,351.19A229.0,229.0 0 0 0 486.98,350.76Z" fill="#cbd5e8"/><path d="M497.05,338.95A244.5,244.5 0 0 1 497.59,339.38L488.05,351.59A229.0,229.0 0 0 0 487.53,351.19Z" fill="#fff2ae"/><path d="M497.59,339.38A244.5,244.5 0 0 1 498.11,339.79L488.53,351.97A229.0,229.0 0 0 0 488.05,351.59Z" fill="#b3e2cd"/><path d="M498.11,339.79A244.5,244.5 0 0 1 498.59,340.17L488.98,352.33A229.0,229.0 0 0 0 488.53,351.97Z" fill="#d62728"/><path d="M498.59,340.17A244.5,244.5 0 0 1 499.06,340.54L489.42,352.68A229.0,229.0 0 0 0 488.98,352.33Z" fill="#ff7f0e"/><path d="M499.06,340.54A244.5,244.5 0 0 1 499.52,340.90L489.85,353.02A229.0,229.0 0 0 0 489.42,352.68Z" fill="#cccccc"/><path d="M499.52,340.90A244.5,244.5 0 0 1 499.82,341.14L490.13,353.24A229.0,229.0 0 0 0 489.85,353.02Z" fill="#f4cae4"/><path d="M499.82,341.14A244.5,244.5 0 0 1 500.10,341.37L490.39,353.45A229.0,229.0 0 0 0 490.13,353.24Z" fill="#e6f5c9"/><path d="M500.10,341.37A244.5,244.5 0 0 1 500.38,341.59L490.65,353.66A229.0,229.0 0 0 0 490.39,353.45Z" fill="#fdcdac"/><path d="M500.38,341.59A244.5,244.5 0 0 1 500.65,341.81L490.91,353.87A229.0,229.0 0 0 0 490.65,353.66Z" fill="#f1e2cc"/><path d="M500.65,341.81A244.5,244.5 0 0 1 500.87,341.99L491.11,354.03A229.0,229.0 0 0 0 490.91,353.87Z" fill="#1f77b4"/><path d="M510.29,350.02A244.5,244.5 0 0 1 511.33,350.96L500.92,362.44A229.0,229.0 0 0 0 499.93,361.55Z" fill="#cccccc"/><path d="M511.33,350.96A244.5,244.5 0 0 1 512.32,351.86L501.83,363.28A229.0,229.0 0 0 0 500.92,362.44Z" fill="#f1e2cc"/><path d="M512.32,351.86A244.5,244.5 0 0 1 513.21,352.69L502.68,364.05A229.0,229.0 0 0 0 501.83,363.28Z" fill="#f4cae4"/><path d="M513.21,352.69A244.5,244.5 0 0 1 514.07,353.49L503.48,364.80A229.0,229.0 0 0 0 502.68,364.05Z" fill="#b3e2cd"/><path d="M514.07,353.49A244.5,244.5 0 0 1 514.87,354.24L504.23,365.50A229.0,229.0 0 0 0 503.48,364.80Z" fill="#d62728"/><path d="M514.87,354.24A244.5,244.5 0 0 1 515.56,354.89L504.87,366.12A229.0,229.0 0 0 0 504.23,365.50Z" fill="#1f77b4"/><path d="M515.56,354.89A244.5,244.5 0 0 1 516.23,355.53L505.51,366.72A229.0,229.0 0 0 0 504.87,366.12Z" fill="#ff7f0e"/><path d="M516.23,355.53A244.5,244.5 0 0 1 516.90,356.17L506.13,367.32A229.0,229.0 0 0 0 505.51,366.72Z" fill="#cbd5e8"/><path d="M516.90,356.17A244.5,244.5 0 0 1 517.46,356.72L506.66,367.83A229.0,229.0 0 0 0 506.13,367.32Z" fill="#fff2ae"/><path d="M517.46,356.72A244.5,244.5 0 0 1 517.96,357.20L507.12,368.28A229.0,229.0 0 0 0 506.66,367.83Z" fill="#e6f5c9"/><path d="M517.96,357.20A244.5,244.5 0 0 1 518.37,357.61L507.51,368.66A229.0,229.0 0 0 0 507.12,368.28Z" fill="#fdcdac"/><path d="M518.37,357.61A244.5,244.5 0 0 1 518.68,357.91L507.79,368.95A229.0,229.0 0 0 0 507.51,368.66Z" fill="#2ca02c"/><path d="M526.98,366.50A244.5,244.5 0 0 1 527.85,367.46L516.38,377.89A229.0,229.0 0 0 0 515.57,377.00Z" fill="#fdcdac"/><path d="M527.85,367.46A244.5,244.5 0 0 1 528.70,368.39L517.18,378.77A229.0,229.0 0 0 0 516.38,377.89Z" fill="#d62728"/><path d="M528.70,368.39A244.5,244.5 0 0 1 529.45,369.23L517.88,379.55A229.0,229.0 0 0 0 517.18,378.77Z" fill="#cbd5e8"/><path d="M529.45,369.23A244.5,244.5 0 0 1 530.17,370.05L518.56,380.31A229.0,229.0 0 0 0 517.88,379.55Z" fill="#fff2ae"/><path d="M530.17,370.05A244.5,244.5 0 0 1 530.85,370.82L519.20,381.04A229.0,229.0 0 0 0 518.56,380.31Z" fill="#b3e2cd"/><path d="M530.85,370.82A244.5,244.5 0 0 1 531.48,371.54L519.79,381.71A229.0,229.0 0 0 0 519.20,381.04Z" fill="#cccccc"/><path d="M531.48,371.54A244.5,244.5 0 0 1 532.06,372.21L520.33,382.34A229.0,229.0 0 0 0 519.79,381.71Z" fill="#f4cae4"/><path d="M532.06,372.21A244.5,244.5 0 0 1 532.48,372.70L520.72,382.80A229.0,229.0 0 0 0 520.33,382.34Z" fill="#1f77b4"/><path d="M532.48,372.70A244.5,244.5 0 0 1 532.87,373.15L521.08,383.22A229.0,229.0 0 0 0 520.72,382.80Z" fill="#e6f5c9"/><path d="M532.87,373.15A244.5,244.5 0 0 1 533.17,373.50L521.37,383.55A229.0,229.0 0 0 0 521.08,383.22Z" fill="#2ca02c"/><path d="M533.17,373.50A244.5,244.5 0 0 1 533.46,373.85L521.64,383.88A229.0,229.0 0 0 0 521.37,383.55Z" fill="#ff7f0e"/><path d="M533.46,373.85A244.5,244.5 0 0 1 533.75,374.19L521.91,384.19A229.0,229.0 0 0 0 521.64,383.88Z" fill="#f1e2cc"/><path d="M541.49,383.84A244.5,244.5 0 0 1 542.07,384.60L529.71,393.95A229.0,229.0 0 0 0 529.16,393.23Z" fill="#f4cae4"/><path d="M542.07,384.60A244.5,244.5 0 0 1 542.57,385.26L530.17,394.56A229.0,229.0 0 0 0 529.71,393.95Z" fill="#1f77b4"/><path d="M542.57,385.26A244.5,244.5 0 0 1 543.06,385.91L530.63,395.17A229.0,229.0 0 0 0 530.17,394.56Z" fill="#cccccc"/><path d="M543.06,385.91A244.5,244.5 0 0 1 543.46,386.45L531.01,395.68A229.0,229.0 0 0 0 530.63,395.17Z" fill="#ff7f0e"/><path d="M543.46,386.45A244.5,244.5 0 0 1 543.82,386.94L531.34,396.14A229.0,229.0 0 0 0 531.01,395.68Z" fill="#f1e2cc"/><path d="M543.82,386.94A244.5,244.5 0 0 1 544.10,387.33L531.61,396.50A229.0,229.0 0 0 0 531.34,396.14Z" fill="#d62728"/><path d="M544.10,387.33A244.5,244.5 0 0 1 544.38,387.71L531.87,396.85A229.0,229.0 0 0 0 531.61,396.50Z" fill="#fff2ae"/><path d="M544.38,387.71A244.5,244.5 0 0 1 544.62,388.03L532.09,397.16A229.0,229.0 0 0 0 531.87,396.85Z" fill="#2ca02c"/><path d="M544.62,388.03A244.5,244.5 0 0 1 544.85,388.35L532.31,397.46A229.0,229.0 0 0 0 532.09,397.16Z" fill="#cbd5e8"/><path d="M544.85,388.35A244.5,244.5 0 0 1 545.04,388.60L532.48,397.69A229.0,229.0 0 0 0 532.31,397.46Z" fill="#fdcdac"/><path d="M545.04,388.60A244.5,244.5 0 0 1 545.19,388.82L532.63,397.90A229.0,229.0 0 0 0 532.48,397.69Z" fill="#b3e2cd"/><path d="M545.19,388.82A244.5,244.5 0 0 1 545.31,388.98L532.73,398.04A229.0,229.0 0 0 0 532.63,397.90Z" fill="#e6f5c9"/><path d="M552.29,399.19A244.5,244.5 0 0 1 552.74,399.90L539.70,408.27A229.0,229.0 0 0 0 539.27,407.61Z" fill="#cbd5e8"/><path d="M552.74,399.90A244.5,244.5 0 0 1 553.16,400.56L540.09,408.89A229.0,229.0 0 0 0 539.70,408.27Z" fill="#1f77b4"/><path d="M553.16,400.56A244.5,244.5 0 0 1 553.59,401.22L540.49,409.51A229.0,229.0 0 0 0 540.09,408.89Z" fill="#fdcdac"/><path d="M553.59,401.22A244.5,244.5 0 0 1 553.94,401.78L540.82,410.03A229.0,229.0 0 0 0 540.49,409.51Z" fill="#cccccc"/><path d="M553.94,401.78A244.5,244.5 0 0 1 554.24,402.26L541.10,410.49A229.0,229.0 0 0 0 540.82,410.03Z" fill="#d62728"/><path d="M554.24,402.26A244.5,244.5 0 0 1 554.50,402.67L541.34,410.87A229.0,229.0 0 0 0 541.10,410.49Z" fill="#b3e2cd"/><path d="M554.50,402.67A244.5,244.5 0 0 1 554.74,403.07L541.57,411.24A229.0,229.0 0 0 0 541.34,410.87Z" fill="#f1e2cc"/><path d="M554.74,403.07A244.5,244.5 0 0 1 554.98,403.46L541.80,411.61A229.0,229.0 0 0 0 541.57,411.24Z" fill="#f4cae4"/><path d="M554.98,403.46A244.5,244.5 0 0 1 555.20,403.81L542.00,411.93A229.0,229.0 0 0 0 541.80,411.61Z" fill="#fff2ae"/><path d="M555.20,403.81A244.5,244.5 0 0 1 555.41,404.15L542.20,412.25A229.0,229.0 0 0 0 542.00,411.93Z" fill="#ff7f0e"/><path d="M555.41,404.15A244.5,244.5 0 0 1 555.55,404.39L542.33,412.48A229.0,229.0 0 0 0 542.20,412.25Z" fill="#e6f5c9"/><path d="M555.55,404.39A244.5,244.5 0 0 1 555.69,404.61L542.46,412.69A229.0,229.0 0 0 0 542.33,412.48Z" fill="#2ca02c"/><path d="M562.48,416.46A244.5,244.5 0 0 1 579.66,456.85L564.92,461.62A229.0,229.0 0 0 0 548.82,423.79Z" fill="#2ca02c"/><path d="M579.66,456.85A244.5,244.5 0 0 1 589.12,497.97L573.77,500.13A229.0,229.0 0 0 0 564.92,461.62Z" fill="#d62728"/><path d="M589.12,497.97A244.5,244.5 0 0 1 591.30,541.81L575.82,541.19A229.0,229.0 0 0 0 573.77,500.13Z" fill="#ff7f0e"/><path d="M591.30,541.81A244.5,244.5 0 0 1 586.33,582.00L571.16,578.83A229.0,229.0 0 0 0 575.82,541.19Z" fill="#f4cae4"/><path d="M586.33,582.00A244.5,244.5 0 0 1 574.49,621.61L560.07,615.93A229.0,229.0 0 0 0 571.16,578.83Z" fill="#cccccc"/><path d="M574.49,621.61A244.5,244.5 0 0 1 556.14,658.66L542.88,650.63A229.0,229.0 0 0 0 560.07,615.93Z" fill="#f1e2cc"/><path d="M556.14,658.66A244.5,244.5 0 0 1 530.40,693.69L518.78,683.44A229.0,229.0 0 0 0 542.88,650.63Z" fill="#e6f5c9"/><path d="M530.40,693.69A244.5,244.5 0 0 1 500.20,722.55L490.49,710.47A229.0,229.0 0 0 0 518.78,683.44Z" fill="#1f77b4"/><path d="M500.20,722.55A244.5,244.5 0 0 1 467.40,744.80L459.76,731.31A229.0,229.0 0 0 0 490.49,710.47Z" fill="#fff2ae"/><path d="M467.40,744.80A244.5,244.5 0 0 1 433.82,760.56L428.32,746.08A229.0,229.0 0 0 0 459.76,731.31Z" fill="#b3e2cd"/><path d="M433.82,760.56A244.5,244.5 0 0 1 399.50,770.80L396.17,755.66A229.0,229.0 0 0 0 428.32,746.08Z" fill="#fdcdac"/><path d="M399.50,770.80A244.5,244.5 0 0 1 365.33,775.81L364.17,760.36A229.0,229.0 0 0 0 396.17,755.66Z" fill="#cbd5e8"/><path d="M352.88,756.42L352.99,760.92M348.04,756.50L348.06,761.00M343.20,756.47L343.12,760.97M338.36,756.33L338.19,760.83M333.53,756.10L333.26,760.59M328.70,755.75L328.34,760.24M323.88,755.31L323.42,759.78M319.08,754.76L318.52,759.22M314.28,754.10L313.63,758.56M309.50,753.35L308.75,757.78M294.13,750.19L293.07,754.56M289.44,749.00L288.29,753.35M284.78,747.71L283.53,752.03M280.15,746.31L278.81,750.61M275.54,744.82L274.11,749.09M270.97,743.23L269.45,747.47M266.44,741.55L264.82,745.75M261.94,739.76L260.23,743.93M257.48,737.88L255.69,742.01M253.06,735.90L251.18,739.99M239.05,728.84L236.89,732.79M234.83,726.47L232.59,730.37M230.67,724.01L228.34,727.86M226.56,721.46L224.14,725.25M222.50,718.82L220.01,722.56M218.51,716.09L215.93,719.78M214.57,713.28L211.91,716.91M210.69,710.38L207.96,713.96M206.88,707.40L204.07,710.92M203.13,704.34L200.25,707.80M191.44,693.87L188.33,697.12M187.99,690.48L184.80,693.66M184.61,687.02L181.36,690.13M181.31,683.48L177.99,686.52M178.08,679.88L174.70,682.84M174.93,676.20L171.49,679.09M171.87,672.46L168.36,675.27M168.88,668.65L165.31,671.39M165.98,664.78L162.35,667.44M163.16,660.85L159.47,663.43M154.61,647.69L150.75,650.01M152.16,643.52L148.25,645.76M149.80,639.29L145.85,641.44M147.53,635.02L143.53,637.08M145.36,630.70L141.32,632.67M143.28,626.33L139.19,628.22M141.29,621.91L137.17,623.72M139.40,617.46L135.24,619.17M137.61,612.97L133.41,614.59M135.91,608.43L131.68,609.97M131.09,593.50L126.76,594.74M129.81,588.84L125.46,589.98M128.64,584.14L124.26,585.19M127.57,579.42L123.17,580.37M126.59,574.68L122.18,575.54M125.73,569.92L121.29,570.68M124.96,565.14L120.51,565.81M124.30,560.35L119.83,560.92M123.74,555.54L119.26,556.02M123.28,550.73L118.80,551.10M122.52,535.06L118.02,535.12M122.51,530.22L118.01,530.18M122.60,525.38L118.10,525.25M122.79,520.54L118.30,520.31M123.09,515.71L118.60,515.39M123.49,510.89L119.01,510.47M124.00,506.08L119.53,505.56M124.61,501.28L120.15,500.66M125.33,496.49L120.88,495.78M126.14,491.72L121.72,490.92M129.49,476.40L125.13,475.28M130.74,471.72L126.41,470.51M132.09,467.07L127.79,465.77M133.54,462.46L129.26,461.06M135.09,457.87L130.84,456.39M136.74,453.32L132.52,451.75M138.48,448.81L134.30,447.14M140.32,444.33L136.18,442.58M142.26,439.90L138.16,438.05M144.29,435.51L140.23,433.58M151.53,421.59L147.61,419.37M153.95,417.40L150.08,415.10M156.47,413.27L152.65,410.89M159.07,409.19L155.30,406.73M161.76,405.16L158.05,402.62M164.54,401.20L160.88,398.58M167.40,397.30L163.80,394.60M170.35,393.46L166.80,390.68M173.37,389.68L169.89,386.83M176.48,385.98L173.06,383.05M187.10,374.42L183.89,371.26M190.53,371.01L187.39,367.79M194.03,367.68L190.97,364.38M197.61,364.42L194.62,361.06M201.26,361.24L198.34,357.82M204.97,358.14L202.13,354.65M208.75,355.12L205.98,351.57M212.60,352.18L209.90,348.57M216.50,349.32L213.89,345.66M220.47,346.55L217.94,342.83M233.73,338.17L231.46,334.28M237.94,335.77L235.75,331.84M242.19,333.47L240.09,329.49M246.50,331.25L244.48,327.23M250.85,329.13L248.92,325.07M255.24,327.11L253.40,323.00M259.68,325.18L257.93,321.03M264.16,323.34L262.50,319.16M268.67,321.61L267.10,317.39M273.22,319.97L271.75,315.72M288.21,315.33L287.04,310.99M292.90,314.12L291.81,309.75M297.61,313.00L296.62,308.61M302.34,311.99L301.44,307.58M307.09,311.08L306.29,306.65M311.86,310.27L311.16,305.82M316.65,309.56L316.04,305.10M321.45,308.96L320.94,304.49M326.26,308.46L325.85,303.98M331.09,308.06L330.77,303.58M347.51,307.50L347.52,303.00M352.35,307.56L352.46,303.06M357.18,307.73L357.39,303.24M362.02,308.00L362.32,303.51M366.84,308.38L367.24,303.90M371.65,308.86L372.15,304.39M376.46,309.44L377.05,304.98M381.25,310.13L381.94,305.68M386.02,310.92L386.80,306.49M390.78,311.81L391.66,307.40M544.85,425.91L548.82,423.79M561.91,467.07L566.21,465.77M570.50,510.79L574.98,510.37M570.28,555.35L574.76,555.82M561.27,598.99L565.57,600.33M543.83,639.98L547.77,642.15M518.62,676.73L522.06,679.63M486.66,707.77L489.46,711.29M449.20,731.89L451.25,735.90M407.71,748.13L408.93,752.47" stroke="#111" stroke-width="1.4" fill="none"/><text x="0" y="0" transform="translate(511.80,443.63) rotate(-28.20)" text-anchor="start" dominant-baseline="central" font-size="14" fill="#111">0%</text><text x="0" y="0" transform="translate(526.01,477.92) rotate(-16.81)" text-anchor="start" dominant-baseline="central" font-size="14" fill="#111">10%</text><text x="0" y="0" transform="translate(533.16,514.34) rotate(-5.42)" text-anchor="start" dominant-baseline="central" font-size="14" fill="#111">20%</text><text x="0" y="0" transform="translate(532.99,551.45) rotate(5.97)" text-anchor="start" dominant-baseline="central" font-size="14" fill="#111">30%</text><text x="0" y="0" transform="translate(525.48,587.80) rotate(17.36)" text-anchor="start" dominant-baseline="central" font-size="14" fill="#111">40%</text><text x="0" y="0" transform="translate(510.95,621.94) rotate(28.75)" text-anchor="start" dominant-baseline="central" font-size="14" fill="#111">50%</text><text x="0" y="0" transform="translate(489.96,652.55) rotate(40.14)" text-anchor="start" dominant-baseline="central" font-size="14" fill="#111">60%</text><text x="0" y="0" transform="translate(463.33,678.41) rotate(51.53)" text-anchor="start" dominant-baseline="central" font-size="14" fill="#111">70%</text><text x="0" y="0" transform="translate(432.13,698.50) rotate(62.92)" text-anchor="start" dominant-baseline="central" font-size="14" fill="#111">80%</text><text x="0" y="0" transform="translate(397.57,712.03) rotate(74.31)" text-anchor="start" dominant-baseline="central" font-size="14" fill="#111">90%</text><text transform="translate(323.20,823.03) rotate(274.68)" text-anchor="end" dominant-baseline="central" font-size="22.5">T1_1</text><text transform="translate(248.11,806.75) rotate(289.80)" text-anchor="end" dominant-baseline="central" font-size="22.5">T1_2</text><text transform="translate(179.87,771.44) rotate(304.92)" text-anchor="end" dominant-baseline="central" font-size="22.5">T1_3</text><text transform="translate(123.20,719.56) rotate(320.04)" text-anchor="end" dominant-baseline="central" font-size="22.5">T2_1</text><text transform="translate(82.03,654.69) rotate(335.15)" text-anchor="end" dominant-baseline="central" font-size="22.5">T2_2</text><text transform="translate(59.20,581.32) rotate(350.27)" text-anchor="end" dominant-baseline="central" font-size="22.5">T2_3</text><text transform="translate(56.29,504.55) rotate(365.40)" text-anchor="end" dominant-baseline="central" font-size="22.5">T3_1</text><text transform="translate(73.52,429.67) rotate(380.51)" text-anchor="end" dominant-baseline="central" font-size="22.5">T3_2</text><text transform="translate(109.68,361.88) rotate(395.63)" text-anchor="end" dominant-baseline="central" font-size="22.5">T3_3</text><text transform="translate(162.27,305.86) rotate(410.75)" text-anchor="end" dominant-baseline="central" font-size="22.5">CK_1</text><text transform="translate(227.65,265.50) rotate(425.88)" text-anchor="end" dominant-baseline="central" font-size="22.5">CK_2</text><text transform="translate(301.30,243.60) rotate(441.00)" text-anchor="end" dominant-baseline="central" font-size="22.5">CK_3</text><text transform="translate(378.99,241.76) rotate(-83.71)" text-anchor="start" dominant-baseline="central" font-size="22.5">Ensifer</text><text transform="translate(433.83,253.21) rotate(-72.70)" text-anchor="start" dominant-baseline="central" font-size="22.5">Sphingomonas</text><text transform="translate(461.80,263.51) rotate(-66.85)" text-anchor="start" dominant-baseline="central" font-size="22.5">norank_o__Actinomarinales</text><text transform="translate(482.51,273.35) rotate(-62.35)" text-anchor="start" dominant-baseline="central" font-size="22.5">Microvirga</text><text transform="translate(505.18,286.55) rotate(-57.20)" text-anchor="start" dominant-baseline="central" font-size="22.5">norank_o__Vicinamibacterales</text><text transform="translate(527.78,302.69) rotate(-51.75)" text-anchor="start" dominant-baseline="central" font-size="22.5">Flavobacterium</text><text transform="translate(547.07,319.32) rotate(-46.75)" text-anchor="start" dominant-baseline="central" font-size="22.5">norank_f__Vicinamibacteraceae</text><text transform="translate(566.03,338.90) rotate(-41.40)" text-anchor="start" dominant-baseline="central" font-size="22.5">Bacillus</text><text transform="translate(581.57,358.11) rotate(-36.55)" text-anchor="start" dominant-baseline="central" font-size="22.5">Geomonas</text><text transform="translate(594.22,376.62) rotate(-32.15)" text-anchor="start" dominant-baseline="central" font-size="22.5">norank_f__Gemmatimonadaceae</text><text transform="translate(603.00,672.45) rotate(28.75)" text-anchor="start" dominant-baseline="central" font-size="22.5">others</text><text x="359.5" y="54" text-anchor="middle" font-weight="bold" font-size="30.5">Circos</text></svg></body></html>
